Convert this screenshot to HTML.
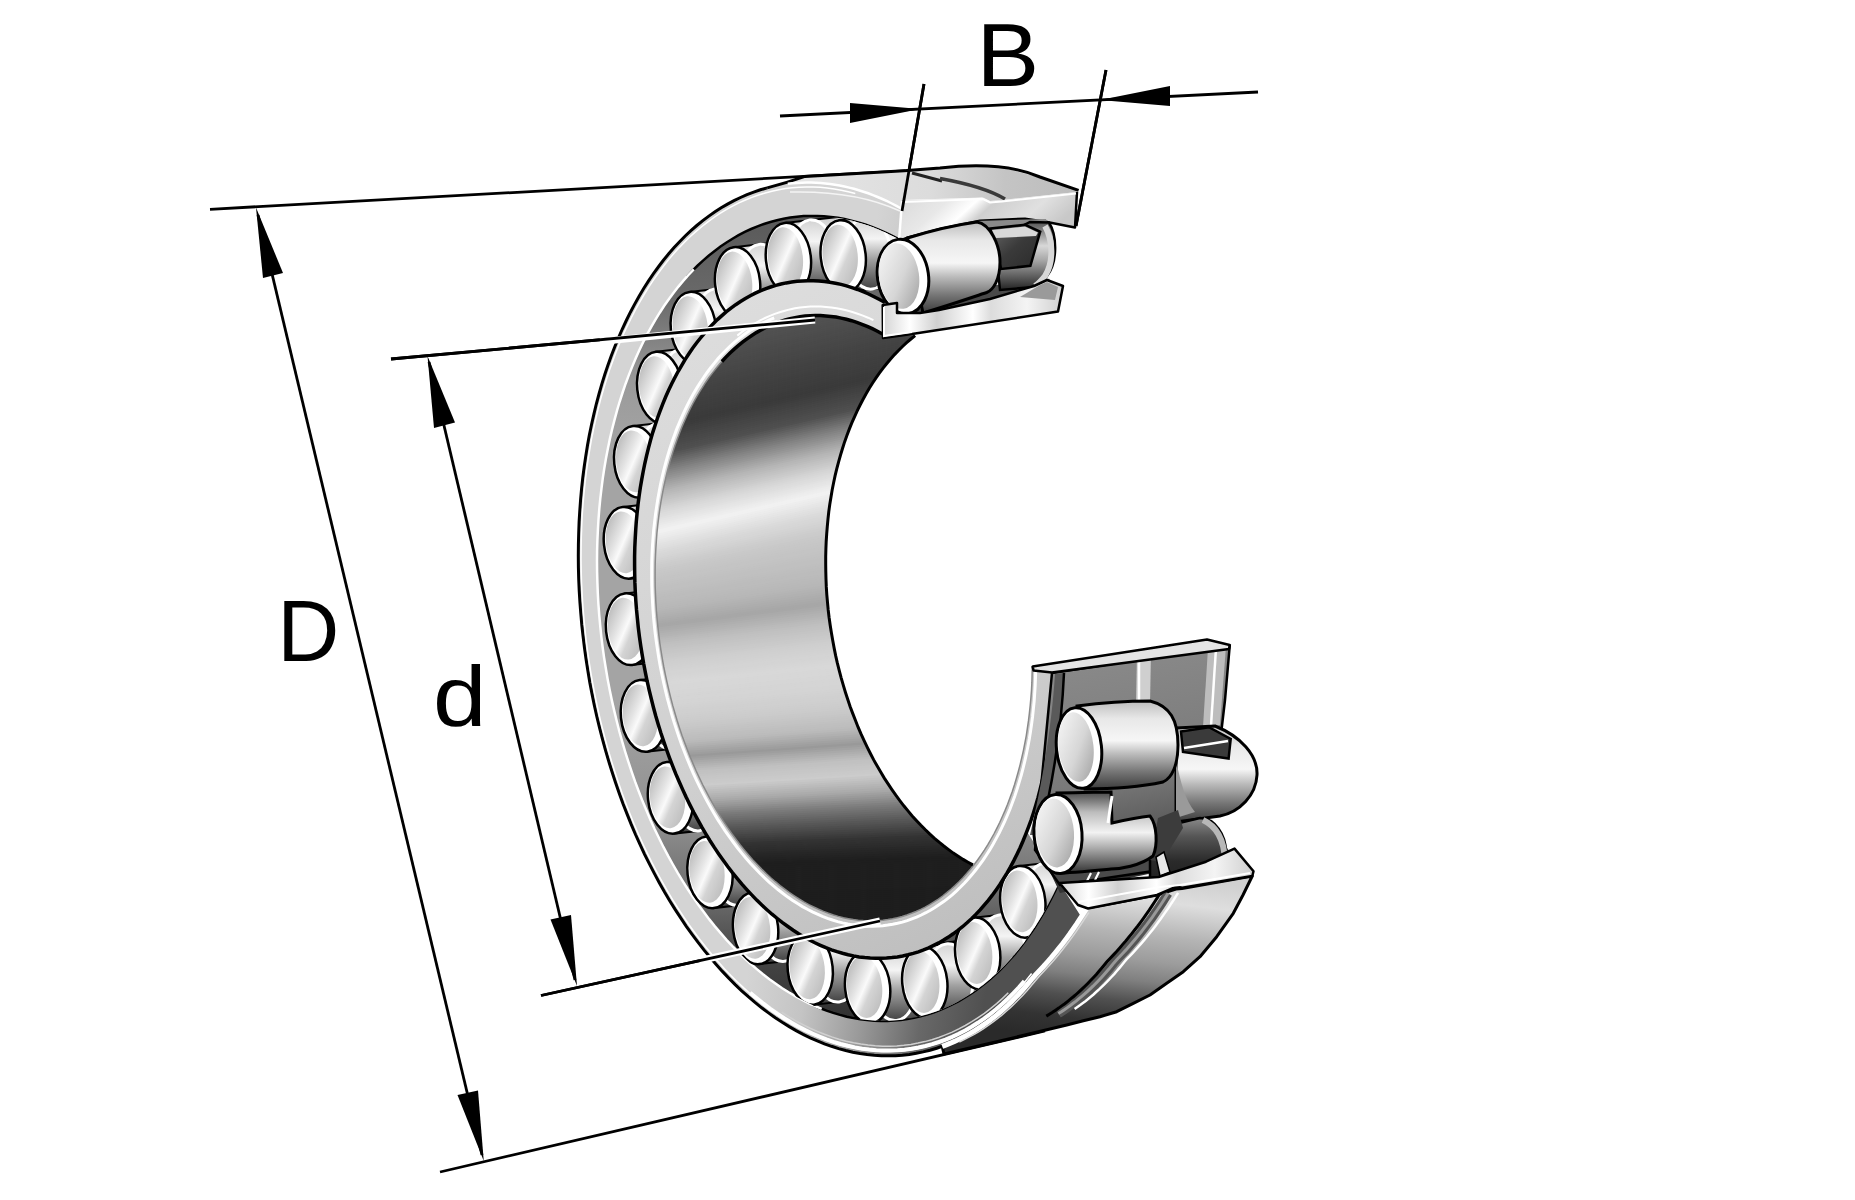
<!DOCTYPE html><html><head><meta charset="utf-8"><style>html,body{margin:0;padding:0;background:#fff;overflow:hidden;}svg{display:block;}.lbl{font-family:"Liberation Sans",sans-serif;font-size:87px;fill:#000;}</style></head><body>
<svg width="1855" height="1200" viewBox="0 0 1855 1200">
<defs>
<linearGradient id="gOuter" gradientUnits="userSpaceOnUse" x1="745" y1="990" x2="980" y2="1030"><stop offset="0" stop-color="#d4d4d4"/><stop offset="0.25" stop-color="#c4c4c4"/><stop offset="0.5" stop-color="#9a9a9a"/><stop offset="0.75" stop-color="#686868"/><stop offset="1" stop-color="#505050"/></linearGradient>
<linearGradient id="gCav" gradientUnits="userSpaceOnUse" x1="0" y1="220" x2="0" y2="1030"><stop offset="0.000" stop-color="#5a5a5a"/><stop offset="0.099" stop-color="#6a6a6a"/><stop offset="0.198" stop-color="#9a9a9a"/><stop offset="0.284" stop-color="#a4a4a4"/><stop offset="0.593" stop-color="#a4a4a4"/><stop offset="0.741" stop-color="#909090"/><stop offset="0.840" stop-color="#6a6a6a"/><stop offset="0.914" stop-color="#444444"/><stop offset="1.000" stop-color="#2e2e2e"/></linearGradient>
<linearGradient id="gInner" gradientUnits="userSpaceOnUse" x1="650" y1="300" x2="980" y2="960"><stop offset="0" stop-color="#dedede"/><stop offset="0.6" stop-color="#d0d0d0"/><stop offset="1" stop-color="#bdbdbd"/></linearGradient>
<linearGradient id="gBore" gradientUnits="userSpaceOnUse" x1="750" y1="320" x2="810" y2="920"><stop offset="0.000" stop-color="#585858"/><stop offset="0.083" stop-color="#444444"/><stop offset="0.167" stop-color="#3a3a3a"/><stop offset="0.233" stop-color="#888888"/><stop offset="0.283" stop-color="#cccccc"/><stop offset="0.333" stop-color="#f2f2f2"/><stop offset="0.383" stop-color="#cdcdcd"/><stop offset="0.433" stop-color="#bbbbbb"/><stop offset="0.492" stop-color="#a8a8a8"/><stop offset="0.533" stop-color="#cccccc"/><stop offset="0.583" stop-color="#dddddd"/><stop offset="0.650" stop-color="#cccccc"/><stop offset="0.683" stop-color="#bbbbbb"/><stop offset="0.717" stop-color="#9c9c9c"/><stop offset="0.750" stop-color="#bbbbbb"/><stop offset="0.792" stop-color="#999999"/><stop offset="0.833" stop-color="#666666"/><stop offset="0.875" stop-color="#333333"/><stop offset="0.917" stop-color="#1c1c1c"/><stop offset="1.000" stop-color="#1c1c1c"/></linearGradient>
<linearGradient id="gCap" x1="0" y1="0" x2="1" y2="1"><stop offset="0" stop-color="#a8a8a8"/><stop offset="0.38" stop-color="#e4e4e4"/><stop offset="0.5" stop-color="#fafafa"/><stop offset="0.62" stop-color="#d4d4d4"/><stop offset="1" stop-color="#b4b4b4"/></linearGradient>
<linearGradient id="gBody" x1="0" y1="0" x2="0" y2="1"><stop offset="0" stop-color="#c8c8c8"/><stop offset="0.35" stop-color="#f4f4f4"/><stop offset="0.6" stop-color="#a0a0a0"/><stop offset="1" stop-color="#3a3a3a"/></linearGradient>
<clipPath id="cOuterKeep"><polygon points="870,620 905,170.8 210,209.3 -10,215 -10,1210 1268,1210 892,620"/></clipPath>
<clipPath id="cCav"><path d="M1093.0,584.1 L1094.8,598.2 L1096.3,612.3 L1097.6,626.4 L1098.5,640.5 L1099.1,654.6 L1099.4,668.7 L1099.3,682.7 L1099.0,696.6 L1098.4,710.4 L1097.4,724.1 L1096.2,737.7 L1094.6,751.1 L1092.7,764.3 L1090.6,777.4 L1088.1,790.3 L1085.3,803.0 L1082.3,815.4 L1079.0,827.6 L1075.3,839.5 L1071.4,851.2 L1067.2,862.6 L1062.8,873.7 L1058.1,884.4 L1053.1,894.9 L1047.9,905.0 L1042.4,914.7 L1036.7,924.1 L1030.8,933.1 L1024.6,941.7 L1018.2,949.9 L1011.6,957.7 L1004.8,965.1 L997.8,972.1 L990.7,978.6 L983.3,984.7 L975.8,990.3 L968.1,995.5 L960.3,1000.2 L952.4,1004.5 L944.3,1008.2 L936.1,1011.5 L927.8,1014.3 L919.3,1016.6 L910.8,1018.4 L902.3,1019.8 L893.6,1020.6 L884.9,1020.9 L876.2,1020.8 L867.4,1020.1 L858.6,1019.0 L849.8,1017.3 L841.0,1015.2 L832.2,1012.6 L823.4,1009.5 L814.6,1005.9 L805.9,1001.8 L797.3,997.3 L788.7,992.3 L780.1,986.8 L771.7,980.9 L763.3,974.5 L755.1,967.7 L747.0,960.5 L739.0,952.8 L731.1,944.7 L723.4,936.3 L715.8,927.4 L708.4,918.2 L701.1,908.5 L694.1,898.6 L687.2,888.3 L680.6,877.6 L674.1,866.6 L667.8,855.4 L661.8,843.8 L656.0,832.0 L650.5,819.9 L645.2,807.5 L640.1,794.9 L635.3,782.1 L630.7,769.1 L626.5,755.9 L622.5,742.5 L618.7,729.0 L615.3,715.4 L612.1,701.6 L609.3,687.7 L606.7,673.8 L604.4,659.8 L602.4,645.7 L600.8,631.6 L599.4,617.4 L598.3,603.3 L597.6,589.2 L597.2,575.1 L597.0,561.1 L597.2,547.2 L597.7,533.3 L598.5,519.5 L599.6,505.9 L601.0,492.4 L602.7,479.1 L604.7,465.9 L607.0,452.9 L609.6,440.2 L612.5,427.6 L615.7,415.3 L619.2,403.2 L623.0,391.4 L627.0,379.9 L631.3,368.6 L635.9,357.7 L640.8,347.1 L645.9,336.8 L651.2,326.9 L656.8,317.4 L662.6,308.2 L668.7,299.3 L675.0,290.9 L681.5,282.9 L688.1,275.3 L695.0,268.1 L702.1,261.4 L709.4,255.1 L716.8,249.2 L724.4,243.8 L732.2,238.9 L740.0,234.4 L748.1,230.4 L756.2,226.9 L764.5,223.8 L772.8,221.3 L781.3,219.2 L789.8,217.6 L798.4,216.6 L807.1,216.0 L815.8,215.9 L824.6,216.3 L833.4,217.2 L842.2,218.6 L851.0,220.5 L859.8,222.9 L868.6,225.7 L877.4,229.1 L886.1,232.9 L894.8,237.2 L903.5,242.0 L912.0,247.2 L920.5,252.9 L928.9,259.0 L937.2,265.6 L945.4,272.7 L953.5,280.1 L961.4,288.0 L969.2,296.2 L976.8,304.9 L984.3,314.0 L991.7,323.4 L998.8,333.2 L1005.8,343.3 L1012.5,353.8 L1019.1,364.6 L1025.5,375.8 L1031.6,387.2 L1037.5,398.9 L1043.2,410.9 L1048.6,423.1 L1053.8,435.6 L1058.7,448.3 L1063.4,461.2 L1067.8,474.3 L1072.0,487.6 L1075.8,501.0 L1079.4,514.6 L1082.7,528.3 L1085.7,542.1 L1088.5,556.0 L1090.9,570.0 L1093.0,584.1Z"/></clipPath>
<linearGradient id="gTopSurf" gradientUnits="userSpaceOnUse" x1="780" y1="180" x2="1080" y2="190"><stop offset="0" stop-color="#e6e6e6"/><stop offset="0.5" stop-color="#dcdcdc"/><stop offset="0.75" stop-color="#c4c4c4"/><stop offset="1" stop-color="#bcbcbc"/></linearGradient>
<linearGradient id="gCutFace" x1="0" y1="0" x2="1" y2="0.3"><stop offset="0" stop-color="#d8d8d8"/><stop offset="0.3" stop-color="#e8e8e8"/><stop offset="0.45" stop-color="#ffffff"/><stop offset="0.55" stop-color="#cfcfcf"/><stop offset="0.8" stop-color="#e0e0e0"/><stop offset="1" stop-color="#c8c8c8"/></linearGradient>
<linearGradient id="gCutFace2" x1="0" y1="0" x2="1" y2="0"><stop offset="0" stop-color="#d4d4d4"/><stop offset="0.15" stop-color="#ffffff"/><stop offset="0.3" stop-color="#d0d0d0"/><stop offset="0.5" stop-color="#ffffff"/><stop offset="0.6" stop-color="#dcdcdc"/><stop offset="0.8" stop-color="#f4f4f4"/><stop offset="1" stop-color="#cfcfcf"/></linearGradient>
<linearGradient id="gRBody" x1="0" y1="0" x2="0" y2="1"><stop offset="0" stop-color="#bdbdbd"/><stop offset="0.2" stop-color="#e8e8e8"/><stop offset="0.45" stop-color="#f6f6f6"/><stop offset="0.6" stop-color="#bcbcbc"/><stop offset="0.8" stop-color="#777"/><stop offset="1" stop-color="#3c3c3c"/></linearGradient>
<linearGradient id="gRBodyD" x1="0" y1="0" x2="0" y2="1"><stop offset="0" stop-color="#555"/><stop offset="0.35" stop-color="#d8d8d8"/><stop offset="0.55" stop-color="#aaa"/><stop offset="1" stop-color="#222"/></linearGradient>
<linearGradient id="gCage" x1="0" y1="0" x2="1" y2="1"><stop offset="0" stop-color="#6a6a6a"/><stop offset="0.5" stop-color="#3a3a3a"/><stop offset="1" stop-color="#2a2a2a"/></linearGradient>
<linearGradient id="gOuterCyl" gradientUnits="userSpaceOnUse" x1="1150" y1="875" x2="1130" y2="1045"><stop offset="0" stop-color="#d0d0d0"/><stop offset="0.15" stop-color="#dedede"/><stop offset="0.35" stop-color="#b4b4b4"/><stop offset="0.5" stop-color="#9c9c9c"/><stop offset="0.62" stop-color="#808080"/><stop offset="0.75" stop-color="#505050"/><stop offset="0.88" stop-color="#333333"/><stop offset="1" stop-color="#2a2a2a"/></linearGradient>
<linearGradient id="gRace" gradientUnits="userSpaceOnUse" x1="1100" y1="650" x2="1140" y2="860"><stop offset="0" stop-color="#8a8a8a"/><stop offset="0.6" stop-color="#7a7a7a"/><stop offset="1" stop-color="#4a4a4a"/></linearGradient>
<linearGradient id="gCap2" x1="0" y1="0" x2="1" y2="1"><stop offset="0" stop-color="#fafafa"/><stop offset="0.55" stop-color="#d6d6d6"/><stop offset="1" stop-color="#9c9c9c"/></linearGradient>
<linearGradient id="gRollD" x1="0" y1="0" x2="0" y2="1"><stop offset="0" stop-color="#8a8a8a"/><stop offset="0.3" stop-color="#555"/><stop offset="0.7" stop-color="#2a2a2a"/><stop offset="1" stop-color="#222"/></linearGradient>
<linearGradient id="gRBodyC" x1="0" y1="0" x2="0" y2="1"><stop offset="0" stop-color="#4a4a4a"/><stop offset="0.25" stop-color="#bdbdbd"/><stop offset="0.5" stop-color="#f2f2f2"/><stop offset="0.7" stop-color="#a8a8a8"/><stop offset="1" stop-color="#333"/></linearGradient>
</defs>
<line x1="210" y1="209.3" x2="905" y2="170.8" stroke="#000" stroke-width="2.8" fill="none"/>
<line x1="440" y1="1172" x2="1045" y2="1031" stroke="#000" stroke-width="2.8" fill="none"/>
<line x1="391" y1="359" x2="815" y2="320" stroke="#000" stroke-width="2.8" fill="none"/>
<line x1="541" y1="995.5" x2="880" y2="921" stroke="#000" stroke-width="2.8" fill="none"/>
<line x1="258" y1="215" x2="482" y2="1155" stroke="#000" stroke-width="2.8" fill="none"/>
<polygon points="256,207.5 283,273 263,278" fill="#000"/>
<polygon points="483.75,1161 457.5,1095 478,1090.5" fill="#000"/>
<line x1="429" y1="362" x2="575" y2="980" stroke="#000" stroke-width="2.8" fill="none"/>
<polygon points="427.5,356 455,422.5 434,428" fill="#000"/>
<polygon points="577,986 550.5,919.5 571,915" fill="#000"/>
<line x1="780" y1="116" x2="1258" y2="92" stroke="#000" stroke-width="2.8" fill="none"/>
<polygon points="920,109 850,103 850,123" fill="#000"/>
<polygon points="1100,100 1170,86 1170,106" fill="#000"/>
<line x1="924" y1="84" x2="902" y2="211" stroke="#000" stroke-width="2.8" fill="none"/>
<line x1="1106" y1="70" x2="1076" y2="226" stroke="#000" stroke-width="2.8" fill="none"/>
<text class="lbl" transform="translate(976.5 86) scale(1.08 1.02)">B</text>
<text class="lbl" transform="translate(277.3 661.3) scale(0.988 1.01)">D</text>
<text class="lbl" transform="translate(433 725.5) scale(1.105 0.973)">d</text>
<g clip-path="url(#cOuterKeep)">
<path d="M1086.8,908.2 L1082.8,914.6 L1078.7,920.9 L1074.6,927.1 L1070.3,933.1 L1066.0,939.1 L1061.6,944.9 L1057.1,950.6 L1052.5,956.1 L1047.8,961.6 L1043.1,966.9 L1038.3,972.0 L1033.4,977.0 L1033.4,977.0 L1028.2,983.5 L1022.8,989.8 L1017.3,995.7 L1011.7,1001.4 L1006.0,1006.9 L1000.2,1012.1 L994.2,1017.0 L988.2,1021.6 L982.1,1025.9 L975.8,1030.0 L969.5,1033.8 L963.1,1037.2 L956.6,1040.4 L950.0,1043.3 L943.4,1045.9 L936.7,1048.2 L929.9,1050.2 L923.1,1051.9 L916.2,1053.3 L909.3,1054.4 L902.4,1055.2 L895.4,1055.7 L888.3,1055.8 L881.3,1055.7 L874.2,1055.3 L867.1,1054.5 L860.0,1053.5 L852.8,1052.2 L845.7,1050.5 L838.6,1048.6 L831.4,1046.3 L824.3,1043.8 L817.2,1040.9 L810.2,1037.8 L803.1,1034.3 L796.1,1030.6 L789.1,1026.6 L782.2,1022.3 L775.3,1017.7 L768.5,1012.9 L761.7,1007.8 L755.0,1002.4 L748.3,996.7 L741.7,990.8 L735.2,984.6 L728.8,978.1 L722.4,971.4 L716.1,964.5 L710.0,957.3 L703.9,949.9 L697.9,942.2 L692.0,934.3 L686.3,926.2 L680.6,917.9 L675.1,909.4 L669.7,900.7 L664.4,891.7 L659.3,882.6 L654.2,873.3 L649.3,863.8 L644.6,854.2 L640.0,844.4 L635.5,834.4 L631.2,824.3 L627.0,814.0 L623.0,803.6 L619.2,793.1 L615.5,782.5 L611.9,771.7 L608.6,760.8 L605.4,749.9 L602.4,738.8 L599.5,727.7 L596.8,716.4 L594.3,705.2 L592.0,693.8 L589.8,682.4 L587.9,671.0 L586.1,659.5 L584.5,648.0 L583.0,636.4 L581.8,624.9 L580.8,613.4 L579.9,601.8 L579.2,590.3 L578.7,578.8 L578.4,567.3 L578.3,555.9 L578.4,544.5 L578.7,533.1 L579.1,521.8 L579.8,510.6 L580.6,499.5 L581.6,488.4 L582.8,477.4 L584.2,466.6 L585.8,455.8 L587.5,445.2 L589.5,434.6 L591.6,424.2 L593.9,414.0 L596.4,403.9 L599.0,393.9 L601.8,384.1 L604.8,374.4 L608.0,365.0 L611.3,355.7 L614.8,346.6 L618.5,337.6 L622.3,328.9 L626.3,320.4 L630.4,312.1 L634.7,304.0 L639.2,296.1 L643.7,288.5 L648.5,281.0 L653.3,273.9 L658.3,266.9 L663.5,260.2 L668.7,253.8 L674.1,247.6 L679.6,241.6 L685.3,236.0 L691.0,230.6 L696.9,225.5 L702.8,220.6 L708.9,216.0 L715.0,211.7 L721.3,207.7 L727.6,204.0 L734.0,200.6 L740.5,197.4 L747.1,194.6 L753.8,192.1 L760.5,189.8 L767.3,187.9 L774.1,186.2 L781.0,184.9 L787.9,183.8 L794.9,183.1 L801.9,182.7 L808.9,182.6 L816.0,182.7 L823.1,183.2 L830.2,184.0 L837.3,185.1 L844.4,186.5 L851.6,188.2 L858.7,190.2 L865.8,192.5 L872.9,195.1 L880.0,198.0 L887.1,201.2 L894.1,204.7 L901.1,208.5 L899.0,239.4 L892.5,236.0 L885.9,232.8 L879.3,229.9 L872.7,227.2 L866.1,224.8 L859.4,222.7 L852.8,220.9 L846.2,219.4 L839.5,218.1 L832.9,217.1 L826.2,216.4 L819.6,216.0 L813.0,215.9 L806.5,216.0 L799.9,216.4 L793.4,217.1 L786.9,218.1 L780.5,219.4 L774.1,220.9 L767.8,222.8 L761.5,224.9 L755.3,227.2 L749.2,229.9 L743.1,232.8 L737.1,236.0 L731.2,239.5 L725.4,243.2 L719.6,247.2 L713.9,251.4 L708.4,255.9 L702.9,260.7 L697.5,265.7 L692.3,271.0 L687.1,276.5 L682.1,282.2 L677.1,288.2 L672.3,294.4 L667.6,300.8 L663.1,307.5 L658.7,314.4 L654.4,321.5 L650.2,328.7 L646.2,336.2 L642.3,343.9 L638.6,351.8 L635.0,359.9 L631.5,368.2 L628.2,376.6 L625.1,385.2 L622.1,394.0 L619.3,402.9 L616.7,412.0 L614.2,421.2 L611.8,430.5 L609.7,440.0 L607.7,449.6 L605.8,459.4 L604.2,469.2 L602.7,479.2 L601.4,489.2 L600.2,499.3 L599.3,509.5 L598.5,519.8 L597.8,530.2 L597.4,540.6 L597.1,551.1 L597.0,561.6 L597.1,572.2 L597.4,582.8 L597.8,593.4 L598.4,604.1 L599.2,614.7 L600.1,625.4 L601.3,636.0 L602.6,646.7 L604.0,657.3 L605.7,667.9 L607.5,678.4 L609.5,688.9 L611.7,699.4 L614.0,709.8 L616.5,720.1 L619.1,730.4 L621.9,740.6 L624.9,750.7 L628.0,760.7 L631.3,770.6 L634.7,780.5 L638.3,790.1 L642.0,799.7 L645.9,809.2 L649.9,818.5 L654.0,827.7 L658.3,836.7 L662.7,845.6 L667.3,854.3 L671.9,862.8 L676.7,871.2 L681.6,879.4 L686.7,887.4 L691.8,895.3 L697.1,902.9 L702.4,910.3 L707.9,917.6 L713.5,924.6 L719.1,931.4 L724.9,938.0 L730.7,944.3 L736.6,950.5 L742.6,956.4 L748.7,962.1 L754.8,967.5 L761.0,972.7 L767.3,977.6 L773.6,982.3 L780.0,986.7 L786.4,990.9 L792.9,994.8 L799.4,998.4 L805.9,1001.8 L812.5,1004.9 L819.1,1007.8 L825.7,1010.3 L832.3,1012.6 L839.0,1014.6 L845.6,1016.4 L852.3,1017.8 L858.9,1019.0 L865.5,1019.9 L872.2,1020.5 L878.8,1020.9 L885.4,1020.9 L891.9,1020.7 L898.5,1020.2 L904.9,1019.4 L911.4,1018.3 L917.8,1017.0 L924.2,1015.4 L930.5,1013.4 L936.7,1011.3 L942.9,1008.8 L949.1,1006.1 L955.1,1003.1 L961.1,999.8 L967.0,996.2 L972.8,992.4 L978.5,988.4 L984.2,984.0 L989.7,979.5 L995.1,974.6 L1000.5,969.5 L1005.7,964.2 L1010.8,958.6 L1015.8,952.8 L1020.7,946.8 L1025.5,940.5 L1030.2,934.0 L1034.7,927.3 L1039.1,920.3 L1043.3,913.2 L1047.4,905.8 L1051.4,898.2 L1055.2,890.5 L1058.9,882.5Z" fill="url(#gOuter)"/>
<path d="M1058.9,882.5 L1055.2,890.5 L1051.4,898.2 L1047.4,905.8 L1043.3,913.2 L1039.1,920.3 L1034.7,927.3 L1030.2,934.0 L1025.5,940.5 L1020.7,946.8 L1015.8,952.8 L1010.8,958.6 L1005.7,964.2 L1000.5,969.5 L995.1,974.6 L989.7,979.5 L984.2,984.0 L978.5,988.4 L972.8,992.4 L967.0,996.2 L961.1,999.8 L955.1,1003.1 L949.1,1006.1 L942.9,1008.8 L936.7,1011.3 L930.5,1013.4 L924.2,1015.4 L917.8,1017.0 L911.4,1018.3 L904.9,1019.4 L898.5,1020.2 L891.9,1020.7 L885.4,1020.9 L878.8,1020.9 L872.2,1020.5 L865.5,1019.9 L858.9,1019.0 L852.3,1017.8 L845.6,1016.4 L839.0,1014.6 L832.3,1012.6 L825.7,1010.3 L819.1,1007.8 L812.5,1004.9 L805.9,1001.8 L799.4,998.4 L792.9,994.8 L786.4,990.9 L780.0,986.7 L773.6,982.3 L767.3,977.6 L761.0,972.7 L754.8,967.5 L748.7,962.1 L742.6,956.4 L736.6,950.5 L730.7,944.3 L724.9,938.0 L719.1,931.4 L713.5,924.6 L707.9,917.6 L702.4,910.3 L697.1,902.9 L691.8,895.3 L686.7,887.4 L681.6,879.4 L676.7,871.2 L671.9,862.8 L667.3,854.3 L662.7,845.6 L658.3,836.7 L654.0,827.7 L649.9,818.5 L645.9,809.2 L642.0,799.7 L638.3,790.1 L634.7,780.5 L631.3,770.6 L628.0,760.7 L624.9,750.7 L621.9,740.6 L619.1,730.4 L616.5,720.1 L614.0,709.8 L611.7,699.4 L609.5,688.9 L607.5,678.4 L605.7,667.9 L604.0,657.3 L602.6,646.7 L601.3,636.0 L600.1,625.4 L599.2,614.7 L598.4,604.1 L597.8,593.4 L597.4,582.8 L597.1,572.2 L597.0,561.6 L597.1,551.1 L597.4,540.6 L597.8,530.2 L598.5,519.8 L599.3,509.5 L600.2,499.3 L601.4,489.2 L602.7,479.2 L604.2,469.2 L605.8,459.4 L607.7,449.6 L609.7,440.0 L611.8,430.5 L614.2,421.2 L616.7,412.0 L619.3,402.9 L622.1,394.0 L625.1,385.2 L628.2,376.6 L631.5,368.2 L635.0,359.9 L638.6,351.8 L642.3,343.9 L646.2,336.2 L650.2,328.7 L654.4,321.5 L658.7,314.4 L663.1,307.5 L667.6,300.8 L672.3,294.4 L677.1,288.2 L682.1,282.2 L687.1,276.5 L692.3,271.0 L697.5,265.7 L702.9,260.7 L708.4,255.9 L713.9,251.4 L719.6,247.2 L725.4,243.2 L731.2,239.5 L737.1,236.0 L743.1,232.8 L749.2,229.9 L755.3,227.2 L761.5,224.9 L767.8,222.8 L774.1,220.9 L780.5,219.4 L786.9,218.1 L793.4,217.1 L799.9,216.4 L806.5,216.0 L813.0,215.9 L819.6,216.0 L826.2,216.4 L832.9,217.1 L839.5,218.1 L846.2,219.4 L852.8,220.9 L859.4,222.7 L866.1,224.8 L872.7,227.2 L879.3,229.9 L885.9,232.8 L892.5,236.0 L899.0,239.4 L885.0,302.5 L879.5,299.5 L874.1,296.7 L868.6,294.0 L863.1,291.7 L857.6,289.5 L852.0,287.6 L846.5,285.9 L841.0,284.4 L835.4,283.2 L829.9,282.2 L824.4,281.5 L818.9,281.0 L813.4,280.7 L807.9,280.7 L802.5,280.9 L797.1,281.3 L791.7,282.0 L786.3,282.9 L781.0,284.0 L775.8,285.4 L770.6,287.0 L765.4,288.8 L760.3,290.9 L755.3,293.2 L750.3,295.7 L745.4,298.5 L740.5,301.5 L735.7,304.7 L731.0,308.1 L726.4,311.7 L721.9,315.6 L717.4,319.6 L713.0,323.9 L708.8,328.4 L704.6,333.1 L700.5,338.0 L696.5,343.0 L692.6,348.3 L688.9,353.8 L685.2,359.4 L681.7,365.3 L678.2,371.3 L674.9,377.5 L671.7,383.8 L668.6,390.3 L665.6,397.0 L662.8,403.8 L660.1,410.8 L657.5,418.0 L655.1,425.2 L652.7,432.6 L650.5,440.2 L648.5,447.8 L646.6,455.6 L644.8,463.5 L643.2,471.5 L641.7,479.6 L640.3,487.8 L639.1,496.1 L638.0,504.5 L637.1,513.0 L636.3,521.5 L635.7,530.1 L635.2,538.8 L634.8,547.5 L634.6,556.3 L634.6,565.1 L634.7,574.0 L634.9,582.9 L635.3,591.8 L635.8,600.7 L636.5,609.7 L637.4,618.6 L638.3,627.6 L639.4,636.5 L640.7,645.5 L642.1,654.4 L643.6,663.3 L645.3,672.1 L647.1,681.0 L649.1,689.8 L651.2,698.5 L653.4,707.2 L655.7,715.8 L658.2,724.3 L660.8,732.8 L663.6,741.2 L666.5,749.5 L669.5,757.8 L672.6,765.9 L675.8,773.9 L679.2,781.8 L682.7,789.6 L686.2,797.3 L689.9,804.9 L693.7,812.3 L697.7,819.6 L701.7,826.8 L705.8,833.8 L710.0,840.7 L714.3,847.4 L718.7,853.9 L723.2,860.3 L727.7,866.5 L732.4,872.6 L737.1,878.4 L741.9,884.1 L746.8,889.6 L751.7,894.9 L756.7,900.1 L761.8,905.0 L766.9,909.7 L772.0,914.2 L777.3,918.5 L782.5,922.6 L787.9,926.5 L793.2,930.2 L798.6,933.7 L804.0,936.9 L809.5,940.0 L814.9,942.8 L820.4,945.3 L825.9,947.7 L831.5,949.8 L837.0,951.7 L842.5,953.3 L848.1,954.7 L853.6,955.9 L859.1,956.9 L864.7,957.6 L870.2,958.1 L875.6,958.3 L881.1,958.3 L886.5,958.1 L892.0,957.6 L897.3,956.9 L902.7,956.0 L908.0,954.8 L913.2,953.4 L918.4,951.8 L923.6,949.9 L928.7,947.8 L933.7,945.4 L938.7,942.9 L943.6,940.1 L948.4,937.1 L953.2,933.8 L957.9,930.4 L962.5,926.7 L967.0,922.8 L971.5,918.7 L975.8,914.4 L980.1,909.9 L984.2,905.2 L988.3,900.3 L992.3,895.2 L996.1,889.9 L999.9,884.4 L1003.5,878.7 L1007.1,872.8 L1010.5,866.8 L1013.8,860.6 L1017.0,854.2 L1020.1,847.7 L1023.0,841.0 L1025.8,834.1 L1028.5,827.1 L1031.1,820.0 L1033.5,812.7 L1035.8,805.3 L1038.0,797.7 L1040.0,790.0 L1041.9,782.2 L1043.7,774.3 L1045.3,766.3 L1046.7,758.2 L1048.1,749.9 L1049.3,741.6 L1050.3,733.2 L1051.2,724.8 L1052.0,716.2 L1052.6,707.6 L1053.1,698.9 L1053.4,690.2 L1053.6,681.4 L1053.6,672.6Z" fill="url(#gCav)"/>
<path d="M1086.8,908.2 L1082.8,914.6 L1078.7,920.9 L1074.6,927.1 L1070.3,933.1 L1066.0,939.1 L1061.6,944.9 L1057.1,950.6 L1052.5,956.1 L1047.8,961.6 L1043.1,966.9 L1038.3,972.0 L1033.4,977.0 L1033.4,977.0 L1028.2,983.5 L1022.8,989.8 L1017.3,995.7 L1011.7,1001.4 L1006.0,1006.9 L1000.2,1012.1 L994.2,1017.0 L988.2,1021.6 L982.1,1025.9 L975.8,1030.0 L969.5,1033.8 L963.1,1037.2 L956.6,1040.4 L950.0,1043.3 L943.4,1045.9 L936.7,1048.2 L930.0,1050.2 L923.1,1051.9 L916.3,1053.3 L909.3,1054.4 L902.4,1055.2 L895.4,1055.7 L888.3,1055.8 L881.3,1055.7 L874.2,1055.3 L867.1,1054.5 L860.0,1053.5 L852.8,1052.2 L845.7,1050.5 L838.6,1048.6 L831.5,1046.3 L824.4,1043.8 L817.3,1040.9 L810.2,1037.8 L803.1,1034.4 L796.1,1030.6 L789.2,1026.6 L782.2,1022.3 L775.3,1017.8 L768.5,1012.9 L761.7,1007.8 L755.0,1002.4 L748.3,996.7 L741.7,990.8 L735.2,984.6 L728.8,978.1 L722.4,971.4 L716.2,964.5 L710.0,957.3 L703.9,949.9 L697.9,942.2 L692.1,934.4 L686.3,926.3 L680.7,917.9 L675.1,909.4 L669.7,900.7 L664.4,891.8 L659.3,882.7 L654.3,873.4 L649.4,863.9 L644.6,854.3 L640.0,844.4 L635.5,834.5 L631.2,824.4 L627.1,814.1 L623.0,803.7 L619.2,793.2 L615.5,782.5 L612.0,771.8 L608.6,760.9 L605.4,749.9 L602.4,738.9 L599.5,727.7 L596.8,716.5 L594.3,705.2 L592.0,693.9 L589.8,682.5 L587.9,671.0 L586.1,659.6 L584.5,648.1 L583.1,636.5 L581.8,625.0 L580.8,613.4 L579.9,601.9 L579.2,590.4 L578.7,578.9 L578.4,567.4 L578.3,556.0 L578.4,544.6 L578.7,533.2 L579.1,521.9 L579.8,510.7 L580.6,499.6 L581.6,488.5 L582.8,477.5 L584.2,466.7 L585.8,455.9 L587.5,445.3 L589.4,434.7 L591.6,424.3 L593.9,414.1 L596.3,404.0 L599.0,394.0 L601.8,384.2 L604.8,374.5 L608.0,365.1 L611.3,355.8 L614.8,346.7 L618.5,337.7 L622.3,329.0 L626.3,320.5 L630.4,312.2 L634.7,304.1 L639.1,296.2 L643.7,288.5 L648.4,281.1 L653.3,273.9 L658.3,267.0 L663.4,260.3 L668.7,253.8 L674.1,247.6 L679.6,241.7 L685.2,236.0 L690.9,230.6 L696.8,225.5 L702.8,220.7 L708.8,216.1 L715.0,211.8 L721.2,207.8 L727.5,204.1 L734.0,200.6 L740.5,197.5 L747.0,194.6 L753.7,192.1 L760.4,189.8 L767.2,187.9" fill="none" stroke="#000" stroke-width="3"/>
<path d="M1058.9,882.5 L1055.2,890.7 L1051.2,898.6 L1047.2,906.3 L1042.9,913.8 L1038.6,921.1 L1034.1,928.2 L1029.4,935.0 L1024.7,941.6 L1019.8,948.0 L1014.8,954.1 L1009.6,960.0 L1004.3,965.6 L999.0,971.0 L993.5,976.1 L987.9,981.0 L982.2,985.6 L976.4,989.9 L970.5,994.0 L964.5,997.8 L958.4,1001.3 L952.3,1004.5 L946.1,1007.4 L939.8,1010.1 L933.4,1012.5 L927.0,1014.5 L920.5,1016.3 L914.0,1017.8 L907.4,1019.0 L900.8,1019.9 L894.1,1020.6 L887.4,1020.9 L880.7,1020.9 L874.0,1020.7 L867.2,1020.1 L860.4,1019.2 L853.6,1018.1 L846.8,1016.7 L840.0,1014.9 L833.2,1012.9 L826.5,1010.6 L819.7,1008.0 L813.0,1005.1" fill="none" stroke="#000" stroke-width="2.5"/>
<path d="M687.0,276.6 L692.3,270.9 L697.7,265.5 L703.3,260.4 L708.9,255.5 L714.7,250.9 L720.5,246.5 L726.5,242.5 L732.5,238.7 L738.6,235.2 L744.8,231.9 L751.1,229.0 L757.5,226.4 L763.9,224.0 L770.4,222.0 L776.9,220.2 L783.5,218.7 L790.2,217.6 L796.9,216.7 L803.6,216.1 L810.4,215.9 L817.2,215.9 L824.0,216.2 L830.8,216.9 L837.6,217.8 L844.5,219.0 L851.4,220.6 L858.2,222.4 L865.1,224.5 L871.9,226.9 L878.7,229.6 L885.5,232.6 L892.3,235.9 L899.0,239.4" fill="none" stroke="#000" stroke-width="2.5"/>
<path d="M821.7,1008.8 L815.0,1006.0 L808.4,1003.0 L801.8,999.7 L795.2,996.1 L788.7,992.3 L782.2,988.2 L775.8,983.8 L769.4,979.2 L763.0,974.3 L756.8,969.1 L750.6,963.7 L744.4,958.1 L738.4,952.2 L732.4,946.1 L726.5,939.8 L720.7,933.2 L714.9,926.4 L709.3,919.4 L703.8,912.1 L698.3,904.7 L693.0,897.0 L687.8,889.2 L682.7,881.1 L677.7,872.9 L672.9,864.5 L668.1,855.9 L663.5,847.2 L659.1,838.3 L654.7,829.2 L650.5,820.0 L646.5,810.6 L642.5,801.1 L638.8,791.5 L635.1,781.7 L631.7,771.8 L628.4,761.9 L625.2,751.8 L622.2,741.6 L619.3,731.3 L616.7,721.0 L614.2,710.6 L611.8,700.1 L609.6,689.6 L607.6,679.0 L605.8,668.3 L604.1,657.7 L602.6,647.0 L601.3,636.3 L600.2,625.5 L599.2,614.8 L598.4,604.1 L597.8,593.3 L597.4,582.6 L597.1,571.9 L597.0,561.3 L597.1,550.7 L597.4,540.1 L597.9,529.6 L598.5,519.2 L599.3,508.8 L600.3,498.5 L601.5,488.3 L602.8,478.2 L604.3,468.2 L606.0,458.3 L607.9,448.5 L609.9,438.8 L612.1,429.3 L614.5,419.9 L617.0,410.6 L619.7,401.5 L622.6,392.5 L625.6,383.7 L628.8,375.1 L632.2,366.6 L635.7,358.3 L639.3,350.2 L643.1,342.3 L647.0,334.6 L651.1,327.1 L655.3,319.8 L659.7,312.7 L664.2,305.8 L668.8,299.2 L673.6,292.7 L678.4,286.6 L683.4,280.6 L688.6,274.9 L693.8,269.4" fill="none" stroke="#fff" stroke-width="2.5"/>
<path d="M1031.6,973.5 L1026.4,979.9 L1021.1,986.0 L1015.7,991.9 L1010.2,997.6 L1004.5,1002.9 L998.8,1008.0 L992.9,1012.9 L986.9,1017.5 L980.9,1021.7 L974.7,1025.8 L968.5,1029.5 L962.2,1032.9 L955.8,1036.1 L949.3,1039.0 L942.8,1041.5 L936.2,1043.8 L929.5,1045.8 L922.8,1047.5 L916.0,1048.9 L909.1,1050.0 L902.3,1050.8 L895.4,1051.3 L888.4,1051.5 L881.5,1051.4 L874.5,1051.0 L867.5,1050.3 L860.4,1049.3 L853.4,1048.0 L846.4,1046.4 L839.3,1044.5 L832.3,1042.3 L825.3,1039.8 L818.3,1037.0 L811.3,1033.9 L804.3,1030.6 L797.4,1026.9 L790.5,1023.0 L783.7,1018.8 L776.9,1014.3 L770.1,1009.6 L763.4,1004.5 L756.8,999.2 L750.2,993.7 L743.7,987.9 L737.2,981.8 L730.9,975.5 L724.6,968.9 L718.4,962.1 L712.3,955.0 L706.3,947.7 L700.4,940.2 L694.6,932.5 L688.8,924.5 L683.3,916.3 L677.8,908.0 L672.4,899.4 L667.2,890.6 L662.1,881.6 L657.1,872.5 L652.2,863.2 L647.5,853.7 L642.9,844.0 L638.5,834.2 L634.2,824.3 L630.1,814.2 L626.1,803.9 L622.2,793.6 L618.6,783.1 L615.1,772.5 L611.7,761.8 L608.5,751.0 L605.5,740.1 L602.6,729.1 L599.9,718.1 L597.4,706.9 L595.1,695.8 L592.9,684.5 L590.9,673.2 L589.1,661.9 L587.5,650.6 L586.0,639.2 L584.8,627.8 L583.7,616.4 L582.8,605.0 L582.1,593.6 L581.5,582.3 L581.2,570.9 L581.0,559.6 L581.1,548.4 L581.3,537.2 L581.7,526.0 L582.2,514.9 L583.0,503.9 L584.0,493.0 L585.1,482.1 L586.4,471.3 L587.9,460.7 L589.6,450.2 L591.4,439.7 L593.5,429.4 L595.7,419.3 L598.1,409.2 L600.6,399.3 L603.4,389.6 L606.3,380.0 L609.3,370.6 L612.6,361.4 L616.0,352.3 L619.5,343.5 L623.2,334.8 L627.1,326.3 L631.2,318.0 L635.3,310.0 L639.7,302.1 L644.1,294.5 L648.7,287.1 L653.5,279.9 L658.4,273.0 L663.4,266.3 L668.5,259.8 L673.8,253.6 L679.2,247.6 L684.7,242.0 L690.3,236.5 L696.1,231.4 L701.9,226.5 L707.9,221.8 L713.9,217.5 L720.0,213.4 L726.2,209.6 L732.5,206.1 L738.9,202.9 L745.4,200.0 L751.9,197.4 L758.5,195.0 L765.2,193.0 L771.9,191.2 L778.7,189.8 L785.5,188.6 L792.3,187.8 L799.2,187.2 L806.2,186.9 L813.1,187.0 L820.1,187.3 L827.1,188.0 L834.2,188.9 L841.2,190.2 L848.2,191.7 L855.3,193.5" fill="none" stroke="#fff" stroke-width="1.5"/>
<path d="M1024.3,981.1 L1018.9,987.3 L1013.4,993.2 L1007.7,998.8 L1001.9,1004.2 L996.1,1009.3 L990.1,1014.1 L984.0,1018.6 L977.8,1022.8 L971.5,1026.8 L965.1,1030.4 L958.7,1033.8 L952.1,1036.8 L945.5,1039.6 L938.8,1042.0 L932.1,1044.2 L925.3,1046.0 L918.4,1047.5 L911.5,1048.8 L904.5,1049.7 L897.5,1050.3 L890.5,1050.6 L883.4,1050.6 L876.3,1050.2 L869.2,1049.6 L862.1,1048.7 L854.9,1047.4 L847.8,1045.8 L840.6,1044.0 L833.5,1041.8 L826.4,1039.3 L819.3,1036.5 L812.2,1033.5 L805.1,1030.1 L798.1,1026.4 L791.1,1022.5 L784.1,1018.2 L777.2,1013.7 L770.3,1008.8 L763.5,1003.7 L756.8,998.3 L750.1,992.7" fill="none" stroke="#fff" stroke-width="4"/>
<path d="M1008.3,992.8 L1002.5,998.4 L996.6,1003.6 L990.5,1008.6 L984.4,1013.3 L978.1,1017.6 L971.8,1021.7 L965.3,1025.5 L958.8,1028.9 L952.2,1032.1 L945.4,1034.9 L938.7,1037.5 L931.8,1039.7 L924.9,1041.6 L918.0,1043.1 L910.9,1044.4 L903.9,1045.3 L896.8,1045.9 L889.6,1046.2 L882.4,1046.2 L875.2,1045.8 L868.0,1045.1 L860.8,1044.1 L853.5,1042.8 L846.3,1041.2 L839.0,1039.2 L831.8,1036.9 L824.5,1034.3 L817.3,1031.4 L810.1,1028.2 L803.0,1024.6 L795.8,1020.8 L788.7,1016.6 L781.7,1012.2" fill="none" stroke="#d0d0d0" stroke-width="1.5"/>
</g>
<g clip-path="url(#cOuterKeep)"><g clip-path="url(#cCav)">
<ellipse cx="716.4" cy="532.8" rx="22.5" ry="36.0" transform="rotate(-6.00 716.4 532.8)" fill="url(#gBody)" stroke="#000" stroke-width="2"/><polygon points="622.6,506.9 712.6,496.9 720.1,568.6 630.1,578.6" fill="url(#gBody)" stroke="#000" stroke-width="2"/><ellipse cx="651.6" cy="540.0" rx="22.5" ry="36.0" transform="rotate(-6.00 651.6 540.0)" fill="none" stroke="#fff" stroke-width="3"/><ellipse cx="626.4" cy="542.8" rx="22.5" ry="36.0" transform="rotate(-6.00 626.4 542.8)" fill="#ffffff" stroke="#000" stroke-width="2.5"/><ellipse cx="623.4" cy="542.3" rx="17.5" ry="31.0" transform="rotate(-6.00 623.4 542.3)" fill="url(#gCap)"/>
<ellipse cx="718.5" cy="619.2" rx="22.5" ry="36.0" transform="rotate(-6.00 718.5 619.2)" fill="url(#gBody)" stroke="#000" stroke-width="2"/><polygon points="624.8,593.4 714.8,583.4 722.3,655.0 632.3,665.0" fill="url(#gBody)" stroke="#000" stroke-width="2"/><ellipse cx="653.7" cy="626.4" rx="22.5" ry="36.0" transform="rotate(-6.00 653.7 626.4)" fill="none" stroke="#fff" stroke-width="3"/><ellipse cx="628.5" cy="629.2" rx="22.5" ry="36.0" transform="rotate(-6.00 628.5 629.2)" fill="#ffffff" stroke="#000" stroke-width="2.5"/><ellipse cx="625.5" cy="628.7" rx="17.5" ry="31.0" transform="rotate(-6.00 625.5 628.7)" fill="url(#gCap)"/>
<ellipse cx="726.7" cy="451.8" rx="22.5" ry="36.0" transform="rotate(-6.00 726.7 451.8)" fill="url(#gBody)" stroke="#000" stroke-width="2"/><polygon points="633.0,426.0 723.0,416.0 730.5,487.6 640.5,497.6" fill="url(#gBody)" stroke="#000" stroke-width="2"/><ellipse cx="661.9" cy="459.0" rx="22.5" ry="36.0" transform="rotate(-6.00 661.9 459.0)" fill="none" stroke="#fff" stroke-width="3"/><ellipse cx="636.7" cy="461.8" rx="22.5" ry="36.0" transform="rotate(-6.00 636.7 461.8)" fill="#ffffff" stroke="#000" stroke-width="2.5"/><ellipse cx="633.7" cy="461.3" rx="17.5" ry="31.0" transform="rotate(-6.00 633.7 461.3)" fill="url(#gCap)"/>
<ellipse cx="733.4" cy="705.9" rx="22.5" ry="36.0" transform="rotate(-6.00 733.4 705.9)" fill="url(#gBody)" stroke="#000" stroke-width="2"/><polygon points="639.7,680.1 729.7,670.1 737.2,741.7 647.2,751.7" fill="url(#gBody)" stroke="#000" stroke-width="2"/><ellipse cx="668.6" cy="713.1" rx="22.5" ry="36.0" transform="rotate(-6.00 668.6 713.1)" fill="none" stroke="#fff" stroke-width="3"/><ellipse cx="643.4" cy="715.9" rx="22.5" ry="36.0" transform="rotate(-6.00 643.4 715.9)" fill="#ffffff" stroke="#000" stroke-width="2.5"/><ellipse cx="640.4" cy="715.4" rx="17.5" ry="31.0" transform="rotate(-6.00 640.4 715.4)" fill="url(#gCap)"/>
<ellipse cx="749.7" cy="377.6" rx="22.5" ry="36.0" transform="rotate(-6.00 749.7 377.6)" fill="url(#gBody)" stroke="#000" stroke-width="2"/><polygon points="655.9,351.8 745.9,341.8 753.5,413.4 663.5,423.4" fill="url(#gBody)" stroke="#000" stroke-width="2"/><ellipse cx="684.9" cy="384.8" rx="22.5" ry="36.0" transform="rotate(-6.00 684.9 384.8)" fill="none" stroke="#fff" stroke-width="3"/><ellipse cx="659.7" cy="387.6" rx="22.5" ry="36.0" transform="rotate(-6.00 659.7 387.6)" fill="#ffffff" stroke="#000" stroke-width="2.5"/><ellipse cx="656.7" cy="387.1" rx="17.5" ry="31.0" transform="rotate(-6.00 656.7 387.1)" fill="url(#gCap)"/>
<ellipse cx="760.5" cy="787.8" rx="22.5" ry="36.0" transform="rotate(-6.00 760.5 787.8)" fill="url(#gBody)" stroke="#000" stroke-width="2"/><polygon points="666.8,762.0 756.8,752.0 764.3,823.6 674.3,833.6" fill="url(#gBody)" stroke="#000" stroke-width="2"/><ellipse cx="695.7" cy="795.0" rx="22.5" ry="36.0" transform="rotate(-6.00 695.7 795.0)" fill="none" stroke="#fff" stroke-width="3"/><ellipse cx="670.5" cy="797.8" rx="22.5" ry="36.0" transform="rotate(-6.00 670.5 797.8)" fill="#ffffff" stroke="#000" stroke-width="2.5"/><ellipse cx="667.5" cy="797.3" rx="17.5" ry="31.0" transform="rotate(-6.00 667.5 797.3)" fill="url(#gCap)"/>
<ellipse cx="783.3" cy="317.7" rx="22.5" ry="36.0" transform="rotate(-6.00 783.3 317.7)" fill="url(#gBody)" stroke="#000" stroke-width="2"/><polygon points="689.5,291.9 779.5,281.9 787.0,353.5 697.0,363.5" fill="url(#gBody)" stroke="#000" stroke-width="2"/><ellipse cx="718.5" cy="324.9" rx="22.5" ry="36.0" transform="rotate(-6.00 718.5 324.9)" fill="none" stroke="#fff" stroke-width="3"/><ellipse cx="693.3" cy="327.7" rx="22.5" ry="36.0" transform="rotate(-6.00 693.3 327.7)" fill="#ffffff" stroke="#000" stroke-width="2.5"/><ellipse cx="690.3" cy="327.2" rx="17.5" ry="31.0" transform="rotate(-6.00 690.3 327.2)" fill="url(#gCap)"/>
<ellipse cx="800.0" cy="862.3" rx="22.5" ry="36.0" transform="rotate(-6.00 800.0 862.3)" fill="url(#gBody)" stroke="#000" stroke-width="2"/><polygon points="706.2,836.5 796.2,826.5 803.8,898.1 713.8,908.1" fill="url(#gBody)" stroke="#000" stroke-width="2"/><ellipse cx="735.2" cy="869.5" rx="22.5" ry="36.0" transform="rotate(-6.00 735.2 869.5)" fill="none" stroke="#fff" stroke-width="3"/><ellipse cx="710.0" cy="872.3" rx="22.5" ry="36.0" transform="rotate(-6.00 710.0 872.3)" fill="#ffffff" stroke="#000" stroke-width="2.5"/><ellipse cx="707.0" cy="871.8" rx="17.5" ry="31.0" transform="rotate(-6.00 707.0 871.8)" fill="url(#gCap)"/>
<ellipse cx="827.6" cy="273.0" rx="22.5" ry="36.0" transform="rotate(-6.00 827.6 273.0)" fill="url(#gBody)" stroke="#000" stroke-width="2"/><polygon points="733.8,247.2 823.8,237.2 831.3,308.8 741.3,318.8" fill="url(#gBody)" stroke="#000" stroke-width="2"/><ellipse cx="762.8" cy="280.2" rx="22.5" ry="36.0" transform="rotate(-6.00 762.8 280.2)" fill="none" stroke="#fff" stroke-width="3"/><ellipse cx="737.6" cy="283.0" rx="22.5" ry="36.0" transform="rotate(-6.00 737.6 283.0)" fill="#ffffff" stroke="#000" stroke-width="2.5"/><ellipse cx="734.6" cy="282.5" rx="17.5" ry="31.0" transform="rotate(-6.00 734.6 282.5)" fill="url(#gCap)"/>
<ellipse cx="845.6" cy="918.3" rx="22.5" ry="36.0" transform="rotate(-6.00 845.6 918.3)" fill="url(#gBody)" stroke="#000" stroke-width="2"/><polygon points="751.9,892.5 841.9,882.5 849.4,954.1 759.4,964.1" fill="url(#gBody)" stroke="#000" stroke-width="2"/><ellipse cx="780.8" cy="925.5" rx="22.5" ry="36.0" transform="rotate(-6.00 780.8 925.5)" fill="none" stroke="#fff" stroke-width="3"/><ellipse cx="755.6" cy="928.3" rx="22.5" ry="36.0" transform="rotate(-6.00 755.6 928.3)" fill="#ffffff" stroke="#000" stroke-width="2.5"/><ellipse cx="752.6" cy="927.8" rx="17.5" ry="31.0" transform="rotate(-6.00 752.6 927.8)" fill="url(#gCap)"/>
<ellipse cx="878.4" cy="248.7" rx="22.5" ry="36.0" transform="rotate(-6.00 878.4 248.7)" fill="url(#gBody)" stroke="#000" stroke-width="2"/><polygon points="784.7,222.9 874.7,212.9 882.2,284.5 792.2,294.5" fill="url(#gBody)" stroke="#000" stroke-width="2"/><ellipse cx="813.6" cy="255.9" rx="22.5" ry="36.0" transform="rotate(-6.00 813.6 255.9)" fill="none" stroke="#fff" stroke-width="3"/><ellipse cx="788.4" cy="258.7" rx="22.5" ry="36.0" transform="rotate(-6.00 788.4 258.7)" fill="#ffffff" stroke="#000" stroke-width="2.5"/><ellipse cx="785.4" cy="258.2" rx="17.5" ry="31.0" transform="rotate(-6.00 785.4 258.2)" fill="url(#gCap)"/>
<ellipse cx="900.2" cy="958.9" rx="22.5" ry="36.0" transform="rotate(-6.00 900.2 958.9)" fill="url(#gBody)" stroke="#000" stroke-width="2"/><polygon points="806.5,933.1 896.5,923.1 904.0,994.7 814.0,1004.7" fill="url(#gBody)" stroke="#000" stroke-width="2"/><ellipse cx="835.4" cy="966.1" rx="22.5" ry="36.0" transform="rotate(-6.00 835.4 966.1)" fill="none" stroke="#fff" stroke-width="3"/><ellipse cx="810.2" cy="968.9" rx="22.5" ry="36.0" transform="rotate(-6.00 810.2 968.9)" fill="#ffffff" stroke="#000" stroke-width="2.5"/><ellipse cx="807.2" cy="968.4" rx="17.5" ry="31.0" transform="rotate(-6.00 807.2 968.4)" fill="url(#gCap)"/>
<ellipse cx="933.2" cy="246.1" rx="22.5" ry="36.0" transform="rotate(-6.00 933.2 246.1)" fill="url(#gBody)" stroke="#000" stroke-width="2"/><polygon points="839.4,220.3 929.4,210.3 936.9,281.9 846.9,291.9" fill="url(#gBody)" stroke="#000" stroke-width="2"/><ellipse cx="868.4" cy="253.3" rx="22.5" ry="36.0" transform="rotate(-6.00 868.4 253.3)" fill="none" stroke="#fff" stroke-width="3"/><ellipse cx="843.2" cy="256.1" rx="22.5" ry="36.0" transform="rotate(-6.00 843.2 256.1)" fill="#ffffff" stroke="#000" stroke-width="2.5"/><ellipse cx="840.2" cy="255.6" rx="17.5" ry="31.0" transform="rotate(-6.00 840.2 255.6)" fill="url(#gCap)"/>
<ellipse cx="957.6" cy="977.5" rx="22.5" ry="36.0" transform="rotate(-6.00 957.6 977.5)" fill="url(#gBody)" stroke="#000" stroke-width="2"/><polygon points="863.8,951.7 953.8,941.7 961.4,1013.3 871.4,1023.3" fill="url(#gBody)" stroke="#000" stroke-width="2"/><ellipse cx="892.8" cy="984.7" rx="22.5" ry="36.0" transform="rotate(-6.00 892.8 984.7)" fill="none" stroke="#fff" stroke-width="3"/><ellipse cx="867.6" cy="987.5" rx="22.5" ry="36.0" transform="rotate(-6.00 867.6 987.5)" fill="#ffffff" stroke="#000" stroke-width="2.5"/><ellipse cx="864.6" cy="987.0" rx="17.5" ry="31.0" transform="rotate(-6.00 864.6 987.0)" fill="url(#gCap)"/>
<ellipse cx="1014.8" cy="972.5" rx="22.5" ry="36.0" transform="rotate(-6.00 1014.8 972.5)" fill="url(#gBody)" stroke="#000" stroke-width="2"/><polygon points="921.0,946.7 1011.0,936.7 1018.6,1008.3 928.6,1018.3" fill="url(#gBody)" stroke="#000" stroke-width="2"/><ellipse cx="950.0" cy="979.7" rx="22.5" ry="36.0" transform="rotate(-6.00 950.0 979.7)" fill="none" stroke="#fff" stroke-width="3"/><ellipse cx="924.8" cy="982.5" rx="22.5" ry="36.0" transform="rotate(-6.00 924.8 982.5)" fill="#ffffff" stroke="#000" stroke-width="2.5"/><ellipse cx="921.8" cy="982.0" rx="17.5" ry="31.0" transform="rotate(-6.00 921.8 982.0)" fill="url(#gCap)"/>
<ellipse cx="1067.7" cy="943.5" rx="22.5" ry="36.0" transform="rotate(-6.00 1067.7 943.5)" fill="url(#gBody)" stroke="#000" stroke-width="2"/><polygon points="973.9,917.7 1063.9,907.7 1071.4,979.3 981.4,989.3" fill="url(#gBody)" stroke="#000" stroke-width="2"/><ellipse cx="1002.9" cy="950.7" rx="22.5" ry="36.0" transform="rotate(-6.00 1002.9 950.7)" fill="none" stroke="#fff" stroke-width="3"/><ellipse cx="977.7" cy="953.5" rx="22.5" ry="36.0" transform="rotate(-6.00 977.7 953.5)" fill="#ffffff" stroke="#000" stroke-width="2.5"/><ellipse cx="974.7" cy="953.0" rx="17.5" ry="31.0" transform="rotate(-6.00 974.7 953.0)" fill="url(#gCap)"/>
<ellipse cx="1112.8" cy="891.8" rx="22.5" ry="36.0" transform="rotate(-6.00 1112.8 891.8)" fill="url(#gBody)" stroke="#000" stroke-width="2"/><polygon points="1019.1,866.0 1109.1,856.0 1116.6,927.6 1026.6,937.6" fill="url(#gBody)" stroke="#000" stroke-width="2"/><ellipse cx="1048.0" cy="899.0" rx="22.5" ry="36.0" transform="rotate(-6.00 1048.0 899.0)" fill="none" stroke="#fff" stroke-width="3"/><ellipse cx="1022.8" cy="901.8" rx="22.5" ry="36.0" transform="rotate(-6.00 1022.8 901.8)" fill="#ffffff" stroke="#000" stroke-width="2.5"/><ellipse cx="1019.8" cy="901.3" rx="17.5" ry="31.0" transform="rotate(-6.00 1019.8 901.3)" fill="url(#gCap)"/>
</g></g>
<path d="M1053.6,672.6 L1053.6,681.4 L1053.4,690.2 L1053.1,698.9 L1052.6,707.6 L1052.0,716.2 L1051.2,724.8 L1050.3,733.2 L1049.3,741.6 L1048.1,749.9 L1046.7,758.2 L1045.3,766.3 L1043.7,774.3 L1041.9,782.2 L1040.0,790.0 L1038.0,797.7 L1035.8,805.3 L1033.5,812.7 L1031.1,820.0 L1028.5,827.1 L1025.8,834.1 L1023.0,841.0 L1020.1,847.7 L1017.0,854.2 L1013.8,860.6 L1010.5,866.8 L1007.1,872.8 L1003.5,878.7 L999.9,884.4 L996.1,889.9 L992.3,895.2 L988.3,900.3 L984.2,905.2 L980.1,909.9 L975.8,914.4 L971.5,918.7 L967.0,922.8 L962.5,926.7 L957.9,930.4 L953.2,933.8 L948.4,937.1 L943.6,940.1 L938.7,942.9 L933.7,945.4 L928.7,947.8 L923.6,949.9 L918.4,951.8 L913.2,953.4 L908.0,954.8 L902.7,956.0 L897.3,956.9 L892.0,957.6 L886.5,958.1 L881.1,958.3 L875.6,958.3 L870.2,958.1 L864.7,957.6 L859.1,956.9 L853.6,955.9 L848.1,954.7 L842.5,953.3 L837.0,951.7 L831.5,949.8 L825.9,947.7 L820.4,945.3 L814.9,942.8 L809.5,940.0 L804.0,936.9 L798.6,933.7 L793.2,930.2 L787.9,926.5 L782.5,922.6 L777.3,918.5 L772.0,914.2 L766.9,909.7 L761.8,905.0 L756.7,900.1 L751.7,894.9 L746.8,889.6 L741.9,884.1 L737.1,878.4 L732.4,872.6 L727.7,866.5 L723.2,860.3 L718.7,853.9 L714.3,847.4 L710.0,840.7 L705.8,833.8 L701.7,826.8 L697.7,819.6 L693.7,812.3 L689.9,804.9 L686.2,797.3 L682.7,789.6 L679.2,781.8 L675.8,773.9 L672.6,765.9 L669.5,757.8 L666.5,749.5 L663.6,741.2 L660.8,732.8 L658.2,724.3 L655.7,715.8 L653.4,707.2 L651.2,698.5 L649.1,689.8 L647.1,681.0 L645.3,672.1 L643.6,663.3 L642.1,654.4 L640.7,645.5 L639.4,636.5 L638.3,627.6 L637.4,618.6 L636.5,609.7 L635.8,600.7 L635.3,591.8 L634.9,582.9 L634.7,574.0 L634.6,565.1 L634.6,556.3 L634.8,547.5 L635.2,538.8 L635.7,530.1 L636.3,521.5 L637.1,513.0 L638.0,504.5 L639.1,496.1 L640.3,487.8 L641.7,479.6 L643.2,471.5 L644.8,463.5 L646.6,455.6 L648.5,447.8 L650.5,440.2 L652.7,432.6 L655.1,425.2 L657.5,418.0 L660.1,410.8 L662.8,403.8 L665.6,397.0 L668.6,390.3 L671.7,383.8 L674.9,377.5 L678.2,371.3 L681.7,365.3 L685.2,359.4 L688.9,353.8 L692.6,348.3 L696.5,343.0 L700.5,338.0 L704.6,333.1 L708.8,328.4 L713.0,323.9 L717.4,319.6 L721.9,315.6 L726.4,311.7 L731.0,308.1 L735.7,304.7 L740.5,301.5 L745.4,298.5 L750.3,295.7 L755.3,293.2 L760.3,290.9 L765.4,288.8 L770.6,287.0 L775.8,285.4 L781.0,284.0 L786.3,282.9 L791.7,282.0 L797.1,281.3 L802.5,280.9 L807.9,280.7 L813.4,280.7 L818.9,281.0 L824.4,281.5 L829.9,282.2 L835.4,283.2 L841.0,284.4 L846.5,285.9 L852.0,287.6 L857.6,289.5 L863.1,291.7 L868.6,294.0 L874.1,296.7 L879.5,299.5 L885.0,302.5 L882.5,334.0 L877.7,331.4 L872.8,328.9 L867.8,326.7 L862.9,324.6 L857.9,322.8 L853.0,321.1 L848.0,319.7 L843.0,318.5 L838.1,317.5 L833.1,316.7 L828.1,316.1 L823.2,315.7 L818.3,315.5 L813.3,315.6 L808.4,315.8 L803.6,316.3 L798.7,316.9 L793.9,317.8 L789.1,318.9 L784.4,320.2 L779.7,321.7 L775.1,323.4 L770.4,325.3 L765.9,327.4 L761.4,329.7 L756.9,332.3 L752.6,335.0 L748.2,337.9 L744.0,341.0 L739.8,344.3 L735.7,347.8 L731.6,351.5 L727.7,355.3 L723.8,359.4 L720.0,363.6 L716.3,368.0 L712.7,372.6 L709.1,377.3 L705.7,382.2 L702.4,387.3 L699.1,392.6 L696.0,397.9 L692.9,403.5 L690.0,409.2 L687.2,415.0 L684.5,421.0 L681.8,427.1 L679.4,433.4 L677.0,439.8 L674.7,446.3 L672.6,452.9 L670.5,459.6 L668.6,466.5 L666.8,473.5 L665.2,480.5 L663.6,487.7 L662.2,494.9 L660.9,502.2 L659.7,509.6 L658.7,517.1 L657.8,524.7 L657.0,532.3 L656.4,540.0 L655.9,547.7 L655.5,555.5 L655.2,563.3 L655.1,571.2 L655.1,579.1 L655.2,587.0 L655.5,594.9 L655.9,602.9 L656.4,610.9 L657.1,618.9 L657.9,626.8 L658.8,634.8 L659.8,642.8 L661.0,650.7 L662.3,658.6 L663.7,666.5 L665.3,674.4 L667.0,682.2 L668.8,690.0 L670.7,697.7 L672.7,705.4 L674.9,713.0 L677.1,720.5 L679.5,728.0 L682.0,735.4 L684.7,742.7 L687.4,749.9 L690.2,757.1 L693.2,764.1 L696.2,771.0 L699.4,777.9 L702.6,784.6 L706.0,791.2 L709.4,797.7 L712.9,804.0 L716.6,810.3 L720.3,816.4 L724.1,822.3 L728.0,828.2 L731.9,833.8 L736.0,839.3 L740.1,844.7 L744.3,849.9 L748.6,855.0 L752.9,859.9 L757.3,864.6 L761.7,869.1 L766.2,873.5 L770.8,877.7 L775.4,881.7 L780.1,885.6 L784.8,889.2 L789.5,892.7 L794.3,895.9 L799.1,899.0 L803.9,901.9 L808.8,904.6 L813.7,907.0 L818.6,909.3 L823.6,911.4 L828.5,913.3 L833.5,915.0 L838.4,916.4 L843.4,917.7 L848.4,918.7 L853.4,919.6 L858.3,920.2 L863.3,920.6 L868.2,920.8 L873.1,920.8 L878.0,920.6 L882.9,920.2 L887.8,919.6 L892.6,918.8 L897.4,917.7 L902.1,916.5 L906.8,915.0 L911.5,913.3 L916.1,911.5 L920.7,909.4 L925.2,907.1 L929.6,904.6 L934.0,901.9 L938.4,899.1 L942.6,896.0 L946.8,892.7 L950.9,889.3 L955.0,885.6 L959.0,881.8 L962.9,877.8 L966.7,873.6 L970.4,869.2 L974.0,864.7 L977.6,860.0 L981.0,855.1 L984.4,850.1 L987.7,844.8 L990.8,839.5 L993.9,834.0 L996.8,828.3 L999.7,822.5 L1002.4,816.5 L1005.1,810.4 L1007.6,804.2 L1010.0,797.8 L1012.3,791.4 L1014.5,784.8 L1016.5,778.0 L1018.4,771.2 L1020.2,764.3 L1021.9,757.2 L1023.5,750.1 L1024.9,742.9 L1026.3,735.6 L1027.4,728.2 L1028.5,720.7 L1029.4,713.2 L1030.2,705.5 L1030.9,697.9 L1031.5,690.2 L1031.9,682.4 L1032.1,674.6 L1032.3,666.7Z" fill="url(#gInner)"/>
<path d="M1053.6,672.6 L1053.6,681.4 L1053.4,690.2 L1053.1,698.9 L1052.6,707.6 L1052.0,716.2 L1051.2,724.8 L1050.3,733.2 L1049.3,741.6 L1048.1,749.9 L1046.7,758.2 L1045.3,766.3 L1043.7,774.3 L1041.9,782.2 L1040.0,790.0 L1038.0,797.7 L1035.8,805.3 L1033.5,812.7 L1031.1,820.0 L1028.5,827.1 L1025.8,834.1 L1023.0,841.0 L1020.1,847.7 L1017.0,854.2 L1013.8,860.6 L1010.5,866.8 L1007.1,872.8 L1003.5,878.7 L999.9,884.4 L996.1,889.9 L992.3,895.2 L988.3,900.3 L984.2,905.2 L980.1,909.9 L975.8,914.4 L971.5,918.7 L967.0,922.8 L962.5,926.7 L957.9,930.4 L953.2,933.8 L948.4,937.1 L943.6,940.1 L938.7,942.9 L933.7,945.4 L928.7,947.8 L923.6,949.9 L918.4,951.8 L913.2,953.4 L908.0,954.8 L902.7,956.0 L897.3,956.9 L892.0,957.6 L886.5,958.1 L881.1,958.3 L875.6,958.3 L870.2,958.1 L864.7,957.6 L859.1,956.9 L853.6,955.9 L848.1,954.7 L842.5,953.3 L837.0,951.7 L831.5,949.8 L825.9,947.7 L820.4,945.3 L814.9,942.8 L809.5,940.0 L804.0,936.9 L798.6,933.7 L793.2,930.2 L787.9,926.5 L782.5,922.6 L777.3,918.5 L772.0,914.2 L766.9,909.7 L761.8,905.0 L756.7,900.1 L751.7,894.9 L746.8,889.6 L741.9,884.1 L737.1,878.4 L732.4,872.6 L727.7,866.5 L723.2,860.3 L718.7,853.9 L714.3,847.4 L710.0,840.7 L705.8,833.8 L701.7,826.8 L697.7,819.6 L693.7,812.3 L689.9,804.9 L686.2,797.3 L682.7,789.6 L679.2,781.8 L675.8,773.9 L672.6,765.9 L669.5,757.8 L666.5,749.5 L663.6,741.2 L660.8,732.8 L658.2,724.3 L655.7,715.8 L653.4,707.2 L651.2,698.5 L649.1,689.8 L647.1,681.0 L645.3,672.1 L643.6,663.3 L642.1,654.4 L640.7,645.5 L639.4,636.5 L638.3,627.6 L637.4,618.6 L636.5,609.7 L635.8,600.7 L635.3,591.8 L634.9,582.9 L634.7,574.0 L634.6,565.1 L634.6,556.3 L634.8,547.5 L635.2,538.8 L635.7,530.1 L636.3,521.5 L637.1,513.0 L638.0,504.5 L639.1,496.1 L640.3,487.8 L641.7,479.6 L643.2,471.5 L644.8,463.5 L646.6,455.6 L648.5,447.8 L650.5,440.2 L652.7,432.6 L655.1,425.2 L657.5,418.0 L660.1,410.8 L662.8,403.8 L665.6,397.0 L668.6,390.3 L671.7,383.8 L674.9,377.5 L678.2,371.3 L681.7,365.3 L685.2,359.4 L688.9,353.8 L692.6,348.3 L696.5,343.0 L700.5,338.0 L704.6,333.1 L708.8,328.4 L713.0,323.9 L717.4,319.6 L721.9,315.6 L726.4,311.7 L731.0,308.1 L735.7,304.7 L740.5,301.5 L745.4,298.5 L750.3,295.7 L755.3,293.2 L760.3,290.9 L765.4,288.8 L770.6,287.0 L775.8,285.4 L781.0,284.0 L786.3,282.9 L791.7,282.0 L797.1,281.3 L802.5,280.9 L807.9,280.7 L813.4,280.7 L818.9,281.0 L824.4,281.5 L829.9,282.2 L835.4,283.2 L841.0,284.4 L846.5,285.9 L852.0,287.6 L857.6,289.5 L863.1,291.7 L868.6,294.0 L874.1,296.7 L879.5,299.5 L885.0,302.5" fill="none" stroke="#000" stroke-width="3.5"/>
<clipPath id="cBore"><path d="M882.5,334.0 L877.6,331.3 L872.7,328.9 L867.8,326.6 L862.8,324.6 L857.8,322.7 L852.8,321.1 L847.8,319.7 L842.8,318.5 L837.8,317.4 L832.8,316.7 L827.9,316.1 L822.9,315.7 L817.9,315.5 L813.0,315.6 L808.1,315.9 L803.2,316.3 L798.3,317.0 L793.5,317.9 L788.7,319.0 L783.9,320.3 L779.2,321.9 L774.5,323.6 L769.9,325.6 L765.3,327.7 L760.8,330.1 L756.3,332.6 L751.9,335.4 L747.6,338.3 L743.3,341.5 L739.2,344.8 L735.0,348.4 L731.0,352.1 L727.0,356.0 L723.1,360.1 L719.3,364.4 L715.6,368.8 L712.0,373.5 L708.5,378.3 L705.0,383.3 L701.7,388.4 L698.4,393.7 L695.3,399.1 L692.3,404.8 L689.4,410.5 L686.5,416.4 L683.8,422.5 L681.2,428.7 L678.7,435.0 L676.4,441.4 L674.1,448.0 L672.0,454.7 L670.0,461.5 L668.1,468.4 L666.3,475.4 L664.7,482.5 L663.2,489.8 L661.8,497.1 L660.5,504.5 L659.4,511.9 L658.4,519.5 L657.5,527.1 L656.8,534.8 L656.2,542.5 L655.7,550.3 L655.4,558.1 L655.2,566.0 L655.1,573.9 L655.1,581.9 L655.3,589.8 L655.6,597.8 L656.1,605.8 L656.7,613.9 L657.4,621.9 L658.2,629.9 L659.2,637.9 L660.3,645.9 L661.5,653.9 L662.9,661.8 L664.3,669.7 L666.0,677.6 L667.7,685.5 L669.6,693.3 L671.5,701.0 L673.6,708.7 L675.9,716.3 L678.2,723.9 L680.7,731.3 L683.2,738.7 L685.9,746.0 L688.7,753.3 L691.6,760.4 L694.6,767.4 L697.7,774.4 L700.9,781.2 L704.3,787.9 L707.7,794.4 L711.2,800.9 L714.8,807.2 L718.5,813.4 L722.3,819.5 L726.1,825.4 L730.1,831.2 L734.1,836.8 L738.2,842.3 L742.4,847.6 L746.6,852.7 L751.0,857.7 L755.3,862.5 L759.8,867.2 L764.3,871.7 L768.9,875.9 L773.5,880.1 L778.1,884.0 L782.8,887.7 L787.6,891.3 L792.4,894.6 L797.2,897.8 L802.1,900.8 L807.0,903.6 L811.9,906.1 L816.8,908.5 L821.8,910.7 L826.7,912.6 L831.7,914.4 L836.7,915.9 L841.7,917.3 L846.7,918.4 L851.7,919.3 L856.7,920.0 L861.7,920.5 L866.6,920.8 L871.6,920.9 L876.5,920.7 L881.4,920.4 L886.3,919.8 L891.2,919.0 L896.0,918.0 L900.8,916.8 L905.5,915.4 L910.2,913.8 L914.9,912.0 L919.5,909.9 L924.0,907.7 L928.5,905.3 L932.9,902.6 L937.3,899.8 L941.6,896.7 L945.9,893.5 L950.0,890.1 L954.1,886.5 L958.1,882.7 L962.1,878.7 L965.9,874.5 L969.7,870.1 L973.3,865.6 L972.9,864.9 L968.0,862.2 L963.1,859.4 L958.2,856.3 L953.3,853.1 L948.6,849.6 L943.8,846.0 L939.1,842.2 L934.5,838.3 L929.9,834.1 L925.4,829.8 L920.9,825.3 L916.6,820.7 L912.2,815.9 L908.0,810.9 L903.8,805.8 L899.8,800.6 L895.8,795.2 L891.9,789.6 L888.1,783.9 L884.3,778.1 L880.7,772.1 L877.2,766.1 L873.7,759.9 L870.4,753.5 L867.2,747.1 L864.1,740.6 L861.0,733.9 L858.1,727.2 L855.4,720.3 L852.7,713.4 L850.1,706.4 L847.7,699.3 L845.4,692.2 L843.2,684.9 L841.1,677.6 L839.2,670.3 L837.3,662.9 L835.6,655.4 L834.1,647.9 L832.7,640.3 L831.4,632.8 L830.2,625.2 L829.1,617.5 L828.2,609.9 L827.5,602.3 L826.8,594.6 L826.3,586.9 L826.0,579.3 L825.8,571.6 L825.7,564.0 L825.7,556.4 L825.9,548.8 L826.2,541.3 L826.7,533.8 L827.3,526.3 L828.0,518.9 L828.8,511.5 L829.8,504.2 L831.0,497.0 L832.2,489.8 L833.6,482.7 L835.1,475.7 L836.8,468.7 L838.6,461.9 L840.5,455.1 L842.5,448.5 L844.6,441.9 L846.9,435.5 L849.3,429.1 L851.8,422.9 L854.5,416.8 L857.2,410.9 L860.1,405.0 L863.1,399.3 L866.1,393.8 L869.3,388.3 L872.6,383.0 L876.0,377.9 L879.5,372.9 L883.1,368.1 L886.8,363.5 L890.6,359.0 L894.5,354.6 L898.5,350.5 L902.5,346.5 L906.6,342.7 L910.9,339.0 L915.1,335.6Z"/></clipPath>
<path d="M882.5,334.0 L877.6,331.3 L872.7,328.9 L867.8,326.6 L862.8,324.6 L857.8,322.7 L852.8,321.1 L847.8,319.7 L842.8,318.5 L837.8,317.4 L832.8,316.7 L827.9,316.1 L822.9,315.7 L817.9,315.5 L813.0,315.6 L808.1,315.9 L803.2,316.3 L798.3,317.0 L793.5,317.9 L788.7,319.0 L783.9,320.3 L779.2,321.9 L774.5,323.6 L769.9,325.6 L765.3,327.7 L760.8,330.1 L756.3,332.6 L751.9,335.4 L747.6,338.3 L743.3,341.5 L739.2,344.8 L735.0,348.4 L731.0,352.1 L727.0,356.0 L723.1,360.1 L719.3,364.4 L715.6,368.8 L712.0,373.5 L708.5,378.3 L705.0,383.3 L701.7,388.4 L698.4,393.7 L695.3,399.1 L692.3,404.8 L689.4,410.5 L686.5,416.4 L683.8,422.5 L681.2,428.7 L678.7,435.0 L676.4,441.4 L674.1,448.0 L672.0,454.7 L670.0,461.5 L668.1,468.4 L666.3,475.4 L664.7,482.5 L663.2,489.8 L661.8,497.1 L660.5,504.5 L659.4,511.9 L658.4,519.5 L657.5,527.1 L656.8,534.8 L656.2,542.5 L655.7,550.3 L655.4,558.1 L655.2,566.0 L655.1,573.9 L655.1,581.9 L655.3,589.8 L655.6,597.8 L656.1,605.8 L656.7,613.9 L657.4,621.9 L658.2,629.9 L659.2,637.9 L660.3,645.9 L661.5,653.9 L662.9,661.8 L664.3,669.7 L666.0,677.6 L667.7,685.5 L669.6,693.3 L671.5,701.0 L673.6,708.7 L675.9,716.3 L678.2,723.9 L680.7,731.3 L683.2,738.7 L685.9,746.0 L688.7,753.3 L691.6,760.4 L694.6,767.4 L697.7,774.4 L700.9,781.2 L704.3,787.9 L707.7,794.4 L711.2,800.9 L714.8,807.2 L718.5,813.4 L722.3,819.5 L726.1,825.4 L730.1,831.2 L734.1,836.8 L738.2,842.3 L742.4,847.6 L746.6,852.7 L751.0,857.7 L755.3,862.5 L759.8,867.2 L764.3,871.7 L768.9,875.9 L773.5,880.1 L778.1,884.0 L782.8,887.7 L787.6,891.3 L792.4,894.6 L797.2,897.8 L802.1,900.8 L807.0,903.6 L811.9,906.1 L816.8,908.5 L821.8,910.7 L826.7,912.6 L831.7,914.4 L836.7,915.9 L841.7,917.3 L846.7,918.4 L851.7,919.3 L856.7,920.0 L861.7,920.5 L866.6,920.8 L871.6,920.9 L876.5,920.7 L881.4,920.4 L886.3,919.8 L891.2,919.0 L896.0,918.0 L900.8,916.8 L905.5,915.4 L910.2,913.8 L914.9,912.0 L919.5,909.9 L924.0,907.7 L928.5,905.3 L932.9,902.6 L937.3,899.8 L941.6,896.7 L945.9,893.5 L950.0,890.1 L954.1,886.5 L958.1,882.7 L962.1,878.7 L965.9,874.5 L969.7,870.1 L973.3,865.6 L972.9,864.9 L968.0,862.2 L963.1,859.4 L958.2,856.3 L953.3,853.1 L948.6,849.6 L943.8,846.0 L939.1,842.2 L934.5,838.3 L929.9,834.1 L925.4,829.8 L920.9,825.3 L916.6,820.7 L912.2,815.9 L908.0,810.9 L903.8,805.8 L899.8,800.6 L895.8,795.2 L891.9,789.6 L888.1,783.9 L884.3,778.1 L880.7,772.1 L877.2,766.1 L873.7,759.9 L870.4,753.5 L867.2,747.1 L864.1,740.6 L861.0,733.9 L858.1,727.2 L855.4,720.3 L852.7,713.4 L850.1,706.4 L847.7,699.3 L845.4,692.2 L843.2,684.9 L841.1,677.6 L839.2,670.3 L837.3,662.9 L835.6,655.4 L834.1,647.9 L832.7,640.3 L831.4,632.8 L830.2,625.2 L829.1,617.5 L828.2,609.9 L827.5,602.3 L826.8,594.6 L826.3,586.9 L826.0,579.3 L825.8,571.6 L825.7,564.0 L825.7,556.4 L825.9,548.8 L826.2,541.3 L826.7,533.8 L827.3,526.3 L828.0,518.9 L828.8,511.5 L829.8,504.2 L831.0,497.0 L832.2,489.8 L833.6,482.7 L835.1,475.7 L836.8,468.7 L838.6,461.9 L840.5,455.1 L842.5,448.5 L844.6,441.9 L846.9,435.5 L849.3,429.1 L851.8,422.9 L854.5,416.8 L857.2,410.9 L860.1,405.0 L863.1,399.3 L866.1,393.8 L869.3,388.3 L872.6,383.0 L876.0,377.9 L879.5,372.9 L883.1,368.1 L886.8,363.5 L890.6,359.0 L894.5,354.6 L898.5,350.5 L902.5,346.5 L906.6,342.7 L910.9,339.0 L915.1,335.6Z" fill="#aaa"/>
<g clip-path="url(#cBore)">
<polygon points="560.0,332.2 1100.0,208.0 1100.0,210.8 560.0,335.0" fill="#5c5c5c"/>
<polygon points="560.0,334.2 1100.0,210.0 1100.0,212.8 560.0,337.0" fill="#5b5b5b"/>
<polygon points="560.0,336.2 1100.0,212.0 1100.0,214.8 560.0,339.0" fill="#5b5b5b"/>
<polygon points="560.0,338.2 1100.0,214.0 1100.0,216.8 560.0,341.0" fill="#5a5a5a"/>
<polygon points="560.0,340.2 1100.0,216.0 1100.0,218.8 560.0,343.0" fill="#5a5a5a"/>
<polygon points="560.0,342.2 1100.0,218.0 1100.0,220.8 560.0,345.0" fill="#595959"/>
<polygon points="560.0,344.2 1100.0,220.0 1100.0,222.8 560.0,347.0" fill="#595959"/>
<polygon points="560.0,346.2 1100.0,222.0 1100.0,224.8 560.0,349.0" fill="#585858"/>
<polygon points="560.0,348.2 1100.0,224.0 1100.0,226.8 560.0,351.0" fill="#585858"/>
<polygon points="560.0,350.2 1100.0,226.0 1100.0,228.8 560.0,353.0" fill="#575757"/>
<polygon points="560.0,352.2 1100.0,228.0 1100.0,230.8 560.0,355.0" fill="#575757"/>
<polygon points="560.0,354.2 1100.0,230.0 1100.0,232.8 560.0,357.0" fill="#565656"/>
<polygon points="560.0,356.2 1100.0,232.0 1100.0,234.8 560.0,359.0" fill="#565656"/>
<polygon points="560.0,358.2 1100.0,234.0 1100.0,236.8 560.0,361.0" fill="#565656"/>
<polygon points="560.0,360.2 1100.0,236.0 1100.0,238.8 560.0,363.0" fill="#555555"/>
<polygon points="560.0,362.2 1100.0,238.0 1100.0,240.8 560.0,365.0" fill="#555555"/>
<polygon points="560.0,364.2 1100.0,240.0 1100.0,242.8 560.0,367.0" fill="#545454"/>
<polygon points="560.0,366.2 1100.0,242.0 1100.0,244.8 560.0,369.0" fill="#545454"/>
<polygon points="560.0,368.2 1100.0,244.0 1100.0,246.8 560.0,371.0" fill="#535353"/>
<polygon points="560.0,370.2 1100.0,246.0 1100.0,248.8 560.0,373.0" fill="#535353"/>
<polygon points="560.0,372.2 1100.0,248.0 1100.0,250.8 560.0,375.0" fill="#525252"/>
<polygon points="560.0,374.2 1100.0,250.0 1100.0,252.8 560.0,377.0" fill="#525252"/>
<polygon points="560.0,376.2 1100.0,252.0 1100.0,254.8 560.0,379.0" fill="#515151"/>
<polygon points="560.0,378.2 1100.0,254.0 1100.0,256.8 560.0,381.0" fill="#515151"/>
<polygon points="560.0,380.2 1100.0,256.0 1100.0,258.8 560.0,383.0" fill="#505050"/>
<polygon points="560.0,382.2 1100.0,258.0 1100.0,260.8 560.0,385.0" fill="#505050"/>
<polygon points="560.0,384.2 1100.0,260.0 1100.0,262.8 560.0,387.0" fill="#4f4f4f"/>
<polygon points="560.0,386.2 1100.0,262.0 1100.0,264.8 560.0,389.0" fill="#4e4e4e"/>
<polygon points="560.0,388.2 1100.0,264.0 1100.0,266.8 560.0,391.0" fill="#4e4e4e"/>
<polygon points="560.0,390.2 1100.0,266.0 1100.0,268.8 560.0,393.0" fill="#4d4d4d"/>
<polygon points="560.0,392.2 1100.0,268.0 1100.0,270.8 560.0,395.0" fill="#4c4c4c"/>
<polygon points="560.0,394.2 1100.0,270.0 1100.0,272.8 560.0,397.0" fill="#4b4b4b"/>
<polygon points="560.0,396.2 1100.0,272.0 1100.0,274.8 560.0,399.0" fill="#4b4b4b"/>
<polygon points="560.0,398.2 1100.0,274.0 1100.0,276.8 560.0,401.0" fill="#4a4a4a"/>
<polygon points="560.0,400.2 1100.0,276.0 1100.0,278.8 560.0,403.0" fill="#494949"/>
<polygon points="560.0,402.2 1100.0,278.0 1100.0,280.8 560.0,405.0" fill="#494949"/>
<polygon points="560.0,404.2 1100.0,280.0 1100.0,282.8 560.0,407.0" fill="#484848"/>
<polygon points="560.0,406.2 1100.0,282.0 1100.0,284.8 560.0,409.0" fill="#474747"/>
<polygon points="560.0,408.2 1100.0,284.0 1100.0,286.8 560.0,411.0" fill="#474747"/>
<polygon points="560.0,410.2 1100.0,286.0 1100.0,288.8 560.0,413.0" fill="#464646"/>
<polygon points="560.0,412.2 1100.0,288.0 1100.0,290.8 560.0,415.0" fill="#454545"/>
<polygon points="560.0,414.2 1100.0,290.0 1100.0,292.8 560.0,417.0" fill="#444444"/>
<polygon points="560.0,416.2 1100.0,292.0 1100.0,294.8 560.0,419.0" fill="#444444"/>
<polygon points="560.0,418.2 1100.0,294.0 1100.0,296.8 560.0,421.0" fill="#434343"/>
<polygon points="560.0,420.2 1100.0,296.0 1100.0,298.8 560.0,423.0" fill="#424242"/>
<polygon points="560.0,422.2 1100.0,298.0 1100.0,300.8 560.0,425.0" fill="#424242"/>
<polygon points="560.0,424.2 1100.0,300.0 1100.0,302.8 560.0,427.0" fill="#414141"/>
<polygon points="560.0,426.2 1100.0,302.0 1100.0,304.8 560.0,429.0" fill="#414141"/>
<polygon points="560.0,428.2 1100.0,304.0 1100.0,306.8 560.0,431.0" fill="#404040"/>
<polygon points="560.0,430.2 1100.0,306.0 1100.0,308.8 560.0,433.0" fill="#3f3f3f"/>
<polygon points="560.0,432.2 1100.0,308.0 1100.0,310.8 560.0,435.0" fill="#3f3f3f"/>
<polygon points="560.0,434.2 1100.0,310.0 1100.0,312.8 560.0,437.0" fill="#3e3e3e"/>
<polygon points="560.0,436.2 1100.0,312.0 1100.0,314.8 560.0,439.0" fill="#3e3e3e"/>
<polygon points="560.0,438.2 1100.0,314.0 1100.0,316.8 560.0,441.0" fill="#3d3d3d"/>
<polygon points="560.0,440.2 1100.0,316.0 1100.0,318.8 560.0,443.0" fill="#3d3d3d"/>
<polygon points="560.0,442.2 1100.0,318.0 1100.0,320.8 560.0,445.0" fill="#3c3c3c"/>
<polygon points="560.0,444.2 1100.0,320.0 1100.0,322.8 560.0,447.0" fill="#3b3b3b"/>
<polygon points="560.0,446.2 1100.0,322.0 1100.0,324.8 560.0,449.0" fill="#3b3b3b"/>
<polygon points="560.0,448.2 1100.0,324.0 1100.0,326.8 560.0,451.0" fill="#3a3a3a"/>
<polygon points="560.0,450.2 1100.0,326.0 1100.0,328.8 560.0,453.0" fill="#3b3b3b"/>
<polygon points="560.0,452.2 1100.0,328.0 1100.0,330.8 560.0,455.0" fill="#3c3c3c"/>
<polygon points="560.0,454.2 1100.0,330.0 1100.0,332.8 560.0,457.0" fill="#3e3e3e"/>
<polygon points="560.0,456.2 1100.0,332.0 1100.0,334.8 560.0,459.0" fill="#404040"/>
<polygon points="560.0,458.2 1100.0,334.0 1100.0,336.8 560.0,461.0" fill="#414141"/>
<polygon points="560.0,460.2 1100.0,336.0 1100.0,338.8 560.0,463.0" fill="#434343"/>
<polygon points="560.0,462.2 1100.0,338.0 1100.0,340.8 560.0,465.0" fill="#454545"/>
<polygon points="560.0,464.2 1100.0,340.0 1100.0,342.8 560.0,467.0" fill="#464646"/>
<polygon points="560.0,466.2 1100.0,342.0 1100.0,344.8 560.0,469.0" fill="#484848"/>
<polygon points="560.0,468.2 1100.0,344.0 1100.0,346.8 560.0,471.0" fill="#494949"/>
<polygon points="560.0,470.2 1100.0,346.0 1100.0,348.8 560.0,473.0" fill="#4b4b4b"/>
<polygon points="560.0,472.2 1100.0,348.0 1100.0,350.8 560.0,475.0" fill="#4d4d4d"/>
<polygon points="560.0,474.2 1100.0,350.0 1100.0,352.8 560.0,477.0" fill="#4e4e4e"/>
<polygon points="560.0,476.2 1100.0,352.0 1100.0,354.8 560.0,479.0" fill="#505050"/>
<polygon points="560.0,478.2 1100.0,354.0 1100.0,356.8 560.0,481.0" fill="#565656"/>
<polygon points="560.0,480.2 1100.0,356.0 1100.0,358.8 560.0,483.0" fill="#5b5b5b"/>
<polygon points="560.0,482.2 1100.0,358.0 1100.0,360.8 560.0,485.0" fill="#616161"/>
<polygon points="560.0,484.2 1100.0,360.0 1100.0,362.8 560.0,487.0" fill="#676767"/>
<polygon points="560.0,486.2 1100.0,362.0 1100.0,364.8 560.0,489.0" fill="#6c6c6c"/>
<polygon points="560.0,488.2 1100.0,364.0 1100.0,366.8 560.0,491.0" fill="#727272"/>
<polygon points="560.0,490.2 1100.0,366.0 1100.0,368.8 560.0,493.0" fill="#787878"/>
<polygon points="560.0,492.2 1100.0,368.0 1100.0,370.8 560.0,495.0" fill="#7d7d7d"/>
<polygon points="560.0,494.2 1100.0,370.0 1100.0,372.8 560.0,497.0" fill="#838383"/>
<polygon points="560.0,496.2 1100.0,372.0 1100.0,374.8 560.0,499.0" fill="#888888"/>
<polygon points="560.0,498.2 1100.0,374.0 1100.0,376.8 560.0,501.0" fill="#8d8d8d"/>
<polygon points="560.0,500.2 1100.0,376.0 1100.0,378.8 560.0,503.0" fill="#929292"/>
<polygon points="560.0,502.2 1100.0,378.0 1100.0,380.8 560.0,505.0" fill="#979797"/>
<polygon points="560.0,504.2 1100.0,380.0 1100.0,382.8 560.0,507.0" fill="#9d9d9d"/>
<polygon points="560.0,506.2 1100.0,382.0 1100.0,384.8 560.0,509.0" fill="#a2a2a2"/>
<polygon points="560.0,508.2 1100.0,384.0 1100.0,386.8 560.0,511.0" fill="#a7a7a7"/>
<polygon points="560.0,510.2 1100.0,386.0 1100.0,388.8 560.0,513.0" fill="#acacac"/>
<polygon points="560.0,512.2 1100.0,388.0 1100.0,390.8 560.0,515.0" fill="#b1b1b1"/>
<polygon points="560.0,514.2 1100.0,390.0 1100.0,392.8 560.0,517.0" fill="#b6b6b6"/>
<polygon points="560.0,516.2 1100.0,392.0 1100.0,394.8 560.0,519.0" fill="#b9b9b9"/>
<polygon points="560.0,518.2 1100.0,394.0 1100.0,396.8 560.0,521.0" fill="#bdbdbd"/>
<polygon points="560.0,520.2 1100.0,396.0 1100.0,398.8 560.0,523.0" fill="#c1c1c1"/>
<polygon points="560.0,522.2 1100.0,398.0 1100.0,400.8 560.0,525.0" fill="#c4c4c4"/>
<polygon points="560.0,524.2 1100.0,400.0 1100.0,402.8 560.0,527.0" fill="#c8c8c8"/>
<polygon points="560.0,526.2 1100.0,402.0 1100.0,404.8 560.0,529.0" fill="#cbcbcb"/>
<polygon points="560.0,528.2 1100.0,404.0 1100.0,406.8 560.0,531.0" fill="#cfcfcf"/>
<polygon points="560.0,530.2 1100.0,406.0 1100.0,408.8 560.0,533.0" fill="#d3d3d3"/>
<polygon points="560.0,532.2 1100.0,408.0 1100.0,410.8 560.0,535.0" fill="#d6d6d6"/>
<polygon points="560.0,534.2 1100.0,410.0 1100.0,412.8 560.0,537.0" fill="#d9d9d9"/>
<polygon points="560.0,536.2 1100.0,412.0 1100.0,414.8 560.0,539.0" fill="#dcdcdc"/>
<polygon points="560.0,538.2 1100.0,414.0 1100.0,416.8 560.0,541.0" fill="#dedede"/>
<polygon points="560.0,540.2 1100.0,416.0 1100.0,418.8 560.0,543.0" fill="#e1e1e1"/>
<polygon points="560.0,542.2 1100.0,418.0 1100.0,420.8 560.0,545.0" fill="#e4e4e4"/>
<polygon points="560.0,544.2 1100.0,420.0 1100.0,422.8 560.0,547.0" fill="#e6e6e6"/>
<polygon points="560.0,546.2 1100.0,422.0 1100.0,424.8 560.0,549.0" fill="#e9e9e9"/>
<polygon points="560.0,548.2 1100.0,424.0 1100.0,426.8 560.0,551.0" fill="#ececec"/>
<polygon points="560.0,550.2 1100.0,426.0 1100.0,428.8 560.0,553.0" fill="#eeeeee"/>
<polygon points="560.0,552.2 1100.0,428.0 1100.0,430.8 560.0,555.0" fill="#f1f1f1"/>
<polygon points="560.0,554.2 1100.0,430.0 1100.0,432.8 560.0,557.0" fill="#f1f1f1"/>
<polygon points="560.0,556.2 1100.0,432.0 1100.0,434.8 560.0,559.0" fill="#eeeeee"/>
<polygon points="560.0,558.2 1100.0,434.0 1100.0,436.8 560.0,561.0" fill="#ececec"/>
<polygon points="560.0,560.2 1100.0,436.0 1100.0,438.8 560.0,563.0" fill="#eaeaea"/>
<polygon points="560.0,562.2 1100.0,438.0 1100.0,440.8 560.0,565.0" fill="#e7e7e7"/>
<polygon points="560.0,564.2 1100.0,440.0 1100.0,442.8 560.0,567.0" fill="#e5e5e5"/>
<polygon points="560.0,566.2 1100.0,442.0 1100.0,444.8 560.0,569.0" fill="#e2e2e2"/>
<polygon points="560.0,568.2 1100.0,444.0 1100.0,446.8 560.0,571.0" fill="#e0e0e0"/>
<polygon points="560.0,570.2 1100.0,446.0 1100.0,449.2 560.0,572.9" fill="#dedede"/>
<polygon points="560.0,572.2 1100.0,448.0 1100.0,452.2 560.0,574.5" fill="#dbdbdb"/>
<polygon points="560.0,573.9 1100.0,451.0 1100.0,455.2 560.0,576.2" fill="#d9d9d9"/>
<polygon points="560.0,575.5 1100.0,454.0 1100.0,458.2 560.0,577.8" fill="#d7d7d7"/>
<polygon points="560.0,577.1 1100.0,457.0 1100.0,461.2 560.0,579.5" fill="#d6d6d6"/>
<polygon points="560.0,578.8 1100.0,460.0 1100.0,464.2 560.0,581.1" fill="#d4d4d4"/>
<polygon points="560.0,580.5 1100.0,463.0 1100.0,467.2 560.0,582.8" fill="#d2d2d2"/>
<polygon points="560.0,582.1 1100.0,466.0 1100.0,470.2 560.0,584.4" fill="#d0d0d0"/>
<polygon points="560.0,583.8 1100.0,469.0 1100.0,473.2 560.0,586.1" fill="#cecece"/>
<polygon points="560.0,585.4 1100.0,472.0 1100.0,476.2 560.0,587.7" fill="#cccccc"/>
<polygon points="560.0,587.0 1100.0,475.0 1100.0,479.2 560.0,589.4" fill="#cbcbcb"/>
<polygon points="560.0,588.7 1100.0,478.0 1100.0,482.2 560.0,591.0" fill="#c9c9c9"/>
<polygon points="560.0,590.4 1100.0,481.0 1100.0,485.2 560.0,592.7" fill="#c8c8c8"/>
<polygon points="560.0,592.0 1100.0,484.0 1100.0,488.2 560.0,594.3" fill="#c7c7c7"/>
<polygon points="560.0,593.6 1100.0,487.0 1100.0,491.2 560.0,596.0" fill="#c6c6c6"/>
<polygon points="560.0,595.3 1100.0,490.0 1100.0,494.2 560.0,597.6" fill="#c5c5c5"/>
<polygon points="560.0,597.0 1100.0,493.0 1100.0,497.2 560.0,599.3" fill="#c4c4c4"/>
<polygon points="560.0,598.6 1100.0,496.0 1100.0,500.2 560.0,600.9" fill="#c4c4c4"/>
<polygon points="560.0,600.2 1100.0,499.0 1100.0,503.2 560.0,602.6" fill="#c3c3c3"/>
<polygon points="560.0,601.9 1100.0,502.0 1100.0,506.2 560.0,604.2" fill="#c2c2c2"/>
<polygon points="560.0,603.5 1100.0,505.0 1100.0,509.2 560.0,605.9" fill="#c1c1c1"/>
<polygon points="560.0,605.2 1100.0,508.0 1100.0,512.2 560.0,607.5" fill="#c0c0c0"/>
<polygon points="560.0,606.9 1100.0,511.0 1100.0,515.2 560.0,609.2" fill="#c0c0c0"/>
<polygon points="560.0,608.5 1100.0,514.0 1100.0,518.2 560.0,610.8" fill="#bfbfbf"/>
<polygon points="560.0,610.1 1100.0,517.0 1100.0,521.2 560.0,612.5" fill="#bebebe"/>
<polygon points="560.0,611.8 1100.0,520.0 1100.0,524.2 560.0,614.1" fill="#bdbdbd"/>
<polygon points="560.0,613.5 1100.0,523.0 1100.0,527.2 560.0,615.8" fill="#bcbcbc"/>
<polygon points="560.0,615.1 1100.0,526.0 1100.0,530.2 560.0,617.4" fill="#bcbcbc"/>
<polygon points="560.0,616.8 1100.0,529.0 1100.0,533.2 560.0,619.1" fill="#bbbbbb"/>
<polygon points="560.0,618.4 1100.0,532.0 1100.0,536.2 560.0,620.7" fill="#bababa"/>
<polygon points="560.0,620.0 1100.0,535.0 1100.0,539.2 560.0,622.4" fill="#b9b9b9"/>
<polygon points="560.0,621.7 1100.0,538.0 1100.0,542.2 560.0,624.0" fill="#b8b8b8"/>
<polygon points="560.0,623.4 1100.0,541.0 1100.0,545.2 560.0,625.7" fill="#b7b7b7"/>
<polygon points="560.0,625.0 1100.0,544.0 1100.0,548.2 560.0,627.3" fill="#b5b5b5"/>
<polygon points="560.0,626.6 1100.0,547.0 1100.0,551.2 560.0,629.0" fill="#b3b3b3"/>
<polygon points="560.0,628.3 1100.0,550.0 1100.0,554.2 560.0,630.6" fill="#b1b1b1"/>
<polygon points="560.0,630.0 1100.0,553.0 1100.0,557.2 560.0,632.3" fill="#afafaf"/>
<polygon points="560.0,631.6 1100.0,556.0 1100.0,560.2 560.0,633.9" fill="#adadad"/>
<polygon points="560.0,633.2 1100.0,559.0 1100.0,563.2 560.0,635.6" fill="#ababab"/>
<polygon points="560.0,634.9 1100.0,562.0 1100.0,566.2 560.0,637.2" fill="#a9a9a9"/>
<polygon points="560.0,636.5 1100.0,565.0 1100.0,568.9 560.0,639.0" fill="#a7a7a7"/>
<polygon points="560.0,638.2 1100.0,568.0 1100.0,571.3 560.0,640.8" fill="#a7a7a7"/>
<polygon points="560.0,640.1 1100.0,570.4 1100.0,573.7 560.0,642.7" fill="#aaaaaa"/>
<polygon points="560.0,642.0 1100.0,572.7 1100.0,576.0 560.0,644.6" fill="#acacac"/>
<polygon points="560.0,643.8 1100.0,575.1 1100.0,578.4 560.0,646.5" fill="#afafaf"/>
<polygon points="560.0,645.7 1100.0,577.4 1100.0,580.7 560.0,648.3" fill="#b2b2b2"/>
<polygon points="560.0,647.6 1100.0,579.8 1100.0,583.1 560.0,650.2" fill="#b4b4b4"/>
<polygon points="560.0,649.5 1100.0,582.1 1100.0,585.4 560.0,652.1" fill="#b7b7b7"/>
<polygon points="560.0,651.3 1100.0,584.5 1100.0,587.8 560.0,654.0" fill="#bababa"/>
<polygon points="560.0,653.2 1100.0,586.8 1100.0,590.1 560.0,655.8" fill="#bcbcbc"/>
<polygon points="560.0,655.1 1100.0,589.2 1100.0,592.5 560.0,657.7" fill="#bfbfbf"/>
<polygon points="560.0,657.0 1100.0,591.6 1100.0,594.9 560.0,659.6" fill="#c1c1c1"/>
<polygon points="560.0,658.8 1100.0,593.9 1100.0,597.2 560.0,661.5" fill="#c2c2c2"/>
<polygon points="560.0,660.7 1100.0,596.3 1100.0,599.6 560.0,663.3" fill="#c4c4c4"/>
<polygon points="560.0,662.6 1100.0,598.6 1100.0,601.9 560.0,665.2" fill="#c6c6c6"/>
<polygon points="560.0,664.5 1100.0,601.0 1100.0,604.3 560.0,667.1" fill="#c7c7c7"/>
<polygon points="560.0,666.3 1100.0,603.3 1100.0,606.6 560.0,669.0" fill="#c9c9c9"/>
<polygon points="560.0,668.2 1100.0,605.7 1100.0,609.0 560.0,670.8" fill="#cacaca"/>
<polygon points="560.0,670.1 1100.0,608.0 1100.0,611.3 560.0,672.7" fill="#cccccc"/>
<polygon points="560.0,672.0 1100.0,610.4 1100.0,613.7 560.0,674.6" fill="#cecece"/>
<polygon points="560.0,673.8 1100.0,612.8 1100.0,616.1 560.0,676.5" fill="#cfcfcf"/>
<polygon points="560.0,675.7 1100.0,615.1 1100.0,618.4 560.0,678.3" fill="#d0d0d0"/>
<polygon points="560.0,677.6 1100.0,617.5 1100.0,620.8 560.0,680.2" fill="#d1d1d1"/>
<polygon points="560.0,679.5 1100.0,619.8 1100.0,623.1 560.0,682.1" fill="#d2d2d2"/>
<polygon points="560.0,681.3 1100.0,622.2 1100.0,625.5 560.0,684.0" fill="#d3d3d3"/>
<polygon points="560.0,683.2 1100.0,624.5 1100.0,627.8 560.0,685.8" fill="#d4d4d4"/>
<polygon points="560.0,685.1 1100.0,626.9 1100.0,630.2 560.0,687.7" fill="#d4d4d4"/>
<polygon points="560.0,687.0 1100.0,629.2 1100.0,632.5 560.0,689.6" fill="#d5d5d5"/>
<polygon points="560.0,688.8 1100.0,631.6 1100.0,634.9 560.0,691.5" fill="#d6d6d6"/>
<polygon points="560.0,690.7 1100.0,634.0 1100.0,637.3 560.0,693.3" fill="#d7d7d7"/>
<polygon points="560.0,692.6 1100.0,636.3 1100.0,639.6 560.0,695.2" fill="#d8d8d8"/>
<polygon points="560.0,694.5 1100.0,638.7 1100.0,642.0 560.0,697.1" fill="#d8d8d8"/>
<polygon points="560.0,696.3 1100.0,641.0 1100.0,644.3 560.0,699.0" fill="#d7d7d7"/>
<polygon points="560.0,698.2 1100.0,643.4 1100.0,646.7 560.0,700.8" fill="#d7d7d7"/>
<polygon points="560.0,700.1 1100.0,645.7 1100.0,649.0 560.0,702.7" fill="#d7d7d7"/>
<polygon points="560.0,702.0 1100.0,648.1 1100.0,651.4 560.0,704.6" fill="#d6d6d6"/>
<polygon points="560.0,703.8 1100.0,650.4 1100.0,653.7 560.0,706.5" fill="#d6d6d6"/>
<polygon points="560.0,705.7 1100.0,652.8 1100.0,656.1 560.0,708.3" fill="#d5d5d5"/>
<polygon points="560.0,707.6 1100.0,655.2 1100.0,658.5 560.0,710.2" fill="#d5d5d5"/>
<polygon points="560.0,709.5 1100.0,657.5 1100.0,660.8 560.0,712.1" fill="#d5d5d5"/>
<polygon points="560.0,711.3 1100.0,659.9 1100.0,663.2 560.0,714.0" fill="#d4d4d4"/>
<polygon points="560.0,713.2 1100.0,662.2 1100.0,665.5 560.0,715.8" fill="#d4d4d4"/>
<polygon points="560.0,715.1 1100.0,664.6 1100.0,667.9 560.0,717.7" fill="#d3d3d3"/>
<polygon points="560.0,717.0 1100.0,666.9 1100.0,670.2 560.0,719.6" fill="#d2d2d2"/>
<polygon points="560.0,718.8 1100.0,669.3 1100.0,672.6 560.0,721.5" fill="#d1d1d1"/>
<polygon points="560.0,720.7 1100.0,671.6 1100.0,674.9 560.0,723.4" fill="#d0d0d0"/>
<polygon points="560.0,722.6 1100.0,674.0 1100.0,677.3 560.0,725.2" fill="#d0d0d0"/>
<polygon points="560.0,724.5 1100.0,676.4 1100.0,679.7 560.0,727.1" fill="#cfcfcf"/>
<polygon points="560.0,726.4 1100.0,678.7 1100.0,682.0 560.0,729.0" fill="#cecece"/>
<polygon points="560.0,728.2 1100.0,681.1 1100.0,684.4 560.0,730.9" fill="#cdcdcd"/>
<polygon points="560.0,730.1 1100.0,683.4 1100.0,686.7 560.0,732.7" fill="#cccccc"/>
<polygon points="560.0,732.0 1100.0,685.8 1100.0,689.1 560.0,734.6" fill="#cbcbcb"/>
<polygon points="560.0,733.9 1100.0,688.1 1100.0,691.4 560.0,736.5" fill="#c9c9c9"/>
<polygon points="560.0,735.7 1100.0,690.5 1100.0,693.8 560.0,738.4" fill="#c8c8c8"/>
<polygon points="560.0,737.6 1100.0,692.8 1100.0,696.1 560.0,740.2" fill="#c6c6c6"/>
<polygon points="560.0,739.5 1100.0,695.2 1100.0,698.5 560.0,742.1" fill="#c4c4c4"/>
<polygon points="560.0,741.4 1100.0,697.6 1100.0,700.9 560.0,744.0" fill="#c3c3c3"/>
<polygon points="560.0,743.2 1100.0,699.9 1100.0,703.2 560.0,745.9" fill="#c1c1c1"/>
<polygon points="560.0,745.1 1100.0,702.3 1100.0,705.6 560.0,747.7" fill="#bfbfbf"/>
<polygon points="560.0,747.0 1100.0,704.6 1100.0,707.9 560.0,749.6" fill="#bebebe"/>
<polygon points="560.0,748.9 1100.0,707.0 1100.0,710.3 560.0,751.5" fill="#bcbcbc"/>
<polygon points="560.0,750.7 1100.0,709.3 1100.0,712.6 560.0,753.4" fill="#b9b9b9"/>
<polygon points="560.0,752.6 1100.0,711.7 1100.0,715.0 560.0,755.2" fill="#b4b4b4"/>
<polygon points="560.0,754.5 1100.0,714.0 1100.0,717.3 560.0,757.1" fill="#b0b0b0"/>
<polygon points="560.0,756.4 1100.0,716.4 1100.0,719.7 560.0,759.0" fill="#ababab"/>
<polygon points="560.0,758.2 1100.0,718.8 1100.0,722.1 560.0,760.9" fill="#a7a7a7"/>
<polygon points="560.0,760.1 1100.0,721.1 1100.0,724.4 560.0,762.7" fill="#a2a2a2"/>
<polygon points="560.0,762.0 1100.0,723.5 1100.0,726.8 560.0,764.6" fill="#9e9e9e"/>
<polygon points="560.0,763.9 1100.0,725.8 1100.0,729.1 560.0,766.5" fill="#999999"/>
<polygon points="560.0,765.8 1100.0,728.1 1100.0,731.3 560.0,768.4" fill="#9e9e9e"/>
<polygon points="560.0,767.7 1100.0,730.4 1100.0,733.6 560.0,770.3" fill="#a3a3a3"/>
<polygon points="560.0,769.6 1100.0,732.7 1100.0,735.9 560.0,772.2" fill="#a9a9a9"/>
<polygon points="560.0,771.5 1100.0,735.0 1100.0,738.2 560.0,774.1" fill="#aeaeae"/>
<polygon points="560.0,773.4 1100.0,737.3 1100.0,740.4 560.0,776.0" fill="#b3b3b3"/>
<polygon points="560.0,775.3 1100.0,739.5 1100.0,742.7 560.0,777.9" fill="#b8b8b8"/>
<polygon points="560.0,777.2 1100.0,741.8 1100.0,745.0 560.0,779.8" fill="#bdbdbd"/>
<polygon points="560.0,779.1 1100.0,744.1 1100.0,747.3 560.0,781.7" fill="#c1c1c1"/>
<polygon points="560.0,781.0 1100.0,746.4 1100.0,749.6 560.0,783.6" fill="#c2c2c2"/>
<polygon points="560.0,782.9 1100.0,748.6 1100.0,751.8 560.0,785.5" fill="#c4c4c4"/>
<polygon points="560.0,784.8 1100.0,750.9 1100.0,754.1 560.0,787.4" fill="#c6c6c6"/>
<polygon points="560.0,786.7 1100.0,753.2 1100.0,756.4 560.0,789.3" fill="#c7c7c7"/>
<polygon points="560.0,788.6 1100.0,755.5 1100.0,758.7 560.0,791.2" fill="#c9c9c9"/>
<polygon points="560.0,790.5 1100.0,757.8 1100.0,760.9 560.0,793.1" fill="#cacaca"/>
<polygon points="560.0,792.4 1100.0,760.0 1100.0,763.2 560.0,795.1" fill="#cccccc"/>
<polygon points="560.0,794.3 1100.0,762.3 1100.0,765.5 560.0,797.0" fill="#c7c7c7"/>
<polygon points="560.0,796.2 1100.0,764.6 1100.0,767.8 560.0,798.9" fill="#c3c3c3"/>
<polygon points="560.0,798.1 1100.0,766.9 1100.0,770.1 560.0,800.8" fill="#bebebe"/>
<polygon points="560.0,800.0 1100.0,769.1 1100.0,772.3 560.0,802.7" fill="#bababa"/>
<polygon points="560.0,801.9 1100.0,771.4 1100.0,774.6 560.0,804.6" fill="#b5b5b5"/>
<polygon points="560.0,803.8 1100.0,773.7 1100.0,776.9 560.0,806.5" fill="#b1b1b1"/>
<polygon points="560.0,805.7 1100.0,776.0 1100.0,779.2 560.0,808.4" fill="#acacac"/>
<polygon points="560.0,807.6 1100.0,778.3 1100.0,781.5 560.0,810.3" fill="#a7a7a7"/>
<polygon points="560.0,809.5 1100.0,780.5 1100.0,783.7 560.0,812.2" fill="#a0a0a0"/>
<polygon points="560.0,811.4 1100.0,782.8 1100.0,786.0 560.0,814.1" fill="#9a9a9a"/>
<polygon points="560.0,813.3 1100.0,785.1 1100.0,788.3 560.0,816.0" fill="#949494"/>
<polygon points="560.0,815.2 1100.0,787.4 1100.0,790.6 560.0,817.9" fill="#8d8d8d"/>
<polygon points="560.0,817.1 1100.0,789.7 1100.0,792.8 560.0,819.8" fill="#878787"/>
<polygon points="560.0,819.0 1100.0,791.9 1100.0,795.1 560.0,821.7" fill="#808080"/>
<polygon points="560.0,820.9 1100.0,794.2 1100.0,797.4 560.0,823.6" fill="#7a7a7a"/>
<polygon points="560.0,822.8 1100.0,796.5 1100.0,799.7 560.0,825.5" fill="#757575"/>
<polygon points="560.0,824.7 1100.0,798.8 1100.0,802.0 560.0,827.4" fill="#707070"/>
<polygon points="560.0,826.6 1100.0,801.0 1100.0,804.2 560.0,829.3" fill="#6b6b6b"/>
<polygon points="560.0,828.5 1100.0,803.3 1100.0,806.5 560.0,831.2" fill="#666666"/>
<polygon points="560.0,830.4 1100.0,805.6 1100.0,808.8 560.0,833.1" fill="#616161"/>
<polygon points="560.0,832.3 1100.0,807.9 1100.0,811.1 560.0,835.0" fill="#5c5c5c"/>
<polygon points="560.0,834.2 1100.0,810.2 1100.0,813.3 560.0,836.9" fill="#575757"/>
<polygon points="560.0,836.1 1100.0,812.4 1100.0,815.6 560.0,838.8" fill="#535353"/>
<polygon points="560.0,838.1 1100.0,814.7 1100.0,817.9 560.0,840.7" fill="#4e4e4e"/>
<polygon points="560.0,840.0 1100.0,817.0 1100.0,820.2 560.0,842.6" fill="#4a4a4a"/>
<polygon points="560.0,841.9 1100.0,819.3 1100.0,822.5 560.0,844.5" fill="#454545"/>
<polygon points="560.0,843.8 1100.0,821.5 1100.0,824.7 560.0,846.4" fill="#414141"/>
<polygon points="560.0,845.7 1100.0,823.8 1100.0,827.0 560.0,848.3" fill="#3c3c3c"/>
<polygon points="560.0,847.6 1100.0,826.1 1100.0,829.3 560.0,850.2" fill="#383838"/>
<polygon points="560.0,849.5 1100.0,828.4 1100.0,831.6 560.0,852.1" fill="#333333"/>
<polygon points="560.0,851.4 1100.0,830.7 1100.0,833.9 560.0,854.0" fill="#313131"/>
<polygon points="560.0,853.3 1100.0,832.9 1100.0,836.1 560.0,855.9" fill="#2f2f2f"/>
<polygon points="560.0,855.2 1100.0,835.2 1100.0,838.4 560.0,857.8" fill="#2d2d2d"/>
<polygon points="560.0,857.1 1100.0,837.5 1100.0,840.7 560.0,859.7" fill="#2b2b2b"/>
<polygon points="560.0,859.0 1100.0,839.8 1100.0,843.0 560.0,861.6" fill="#282828"/>
<polygon points="560.0,860.9 1100.0,842.1 1100.0,845.2 560.0,863.5" fill="#262626"/>
<polygon points="560.0,862.8 1100.0,844.3 1100.0,847.5 560.0,865.4" fill="#242424"/>
<polygon points="560.0,864.7 1100.0,846.6 1100.0,849.8 560.0,867.4" fill="#222222"/>
<polygon points="560.0,866.6 1100.0,848.9 1100.0,852.1 560.0,869.3" fill="#202020"/>
<polygon points="560.0,868.5 1100.0,851.2 1100.0,854.4 560.0,871.2" fill="#1e1e1e"/>
<polygon points="560.0,870.4 1100.0,853.4 1100.0,856.6 560.0,873.1" fill="#1e1e1e"/>
<polygon points="560.0,872.3 1100.0,855.7 1100.0,858.8 560.0,875.0" fill="#1e1e1e"/>
<polygon points="560.0,874.2 1100.0,858.0 1100.0,860.8 560.0,877.0" fill="#1e1e1e"/>
<polygon points="560.0,876.2 1100.0,860.0 1100.0,862.8 560.0,879.0" fill="#1e1e1e"/>
<polygon points="560.0,878.2 1100.0,862.0 1100.0,864.8 560.0,881.0" fill="#1e1e1e"/>
<polygon points="560.0,880.2 1100.0,864.0 1100.0,866.8 560.0,883.0" fill="#1e1e1e"/>
<polygon points="560.0,882.2 1100.0,866.0 1100.0,868.8 560.0,885.0" fill="#1e1e1e"/>
<polygon points="560.0,884.2 1100.0,868.0 1100.0,870.8 560.0,887.0" fill="#1e1e1e"/>
<polygon points="560.0,886.2 1100.0,870.0 1100.0,872.8 560.0,889.0" fill="#1e1e1e"/>
<polygon points="560.0,888.2 1100.0,872.0 1100.0,874.8 560.0,891.0" fill="#1e1e1e"/>
<polygon points="560.0,890.2 1100.0,874.0 1100.0,876.8 560.0,893.0" fill="#1e1e1e"/>
<polygon points="560.0,892.2 1100.0,876.0 1100.0,878.8 560.0,895.0" fill="#1e1e1e"/>
<polygon points="560.0,894.2 1100.0,878.0 1100.0,880.8 560.0,897.0" fill="#1e1e1e"/>
<polygon points="560.0,896.2 1100.0,880.0 1100.0,882.8 560.0,899.0" fill="#1e1e1e"/>
<polygon points="560.0,898.2 1100.0,882.0 1100.0,884.8 560.0,901.0" fill="#1d1d1d"/>
<polygon points="560.0,900.2 1100.0,884.0 1100.0,886.8 560.0,903.0" fill="#1d1d1d"/>
<polygon points="560.0,902.2 1100.0,886.0 1100.0,888.8 560.0,905.0" fill="#1d1d1d"/>
<polygon points="560.0,904.2 1100.0,888.0 1100.0,890.8 560.0,907.0" fill="#1d1d1d"/>
<polygon points="560.0,906.2 1100.0,890.0 1100.0,892.8 560.0,909.0" fill="#1d1d1d"/>
<polygon points="560.0,908.2 1100.0,892.0 1100.0,894.8 560.0,911.0" fill="#1d1d1d"/>
<polygon points="560.0,910.2 1100.0,894.0 1100.0,896.8 560.0,913.0" fill="#1d1d1d"/>
<polygon points="560.0,912.2 1100.0,896.0 1100.0,898.8 560.0,915.0" fill="#1d1d1d"/>
<polygon points="560.0,914.2 1100.0,898.0 1100.0,900.8 560.0,917.0" fill="#1d1d1d"/>
<polygon points="560.0,916.2 1100.0,900.0 1100.0,902.8 560.0,919.0" fill="#1d1d1d"/>
<polygon points="560.0,918.2 1100.0,902.0 1100.0,904.8 560.0,921.0" fill="#1d1d1d"/>
<polygon points="560.0,920.2 1100.0,904.0 1100.0,906.8 560.0,923.0" fill="#1d1d1d"/>
<polygon points="560.0,922.2 1100.0,906.0 1100.0,908.8 560.0,925.0" fill="#1d1d1d"/>
<polygon points="560.0,924.2 1100.0,908.0 1100.0,910.8 560.0,927.0" fill="#1d1d1d"/>
<polygon points="560.0,926.2 1100.0,910.0 1100.0,912.8 560.0,929.0" fill="#1d1d1d"/>
<polygon points="560.0,928.2 1100.0,912.0 1100.0,914.8 560.0,931.0" fill="#1d1d1d"/>
<polygon points="560.0,930.2 1100.0,914.0 1100.0,916.8 560.0,933.0" fill="#1d1d1d"/>
<polygon points="560.0,932.2 1100.0,916.0 1100.0,918.8 560.0,935.0" fill="#1d1d1d"/>
<polygon points="560.0,934.2 1100.0,918.0 1100.0,920.8 560.0,937.0" fill="#1d1d1d"/>
<polygon points="560.0,936.2 1100.0,920.0 1100.0,922.8 560.0,939.0" fill="#1d1d1d"/>
<polygon points="560.0,938.2 1100.0,922.0 1100.0,924.8 560.0,941.0" fill="#1d1d1d"/>
<polygon points="560.0,940.2 1100.0,924.0 1100.0,926.8 560.0,943.0" fill="#1d1d1d"/>
<polygon points="560.0,942.2 1100.0,926.0 1100.0,928.8 560.0,945.0" fill="#1d1d1d"/>
<polygon points="560.0,944.2 1100.0,928.0 1100.0,930.8 560.0,947.0" fill="#1d1d1d"/>
<polygon points="560.0,946.2 1100.0,930.0 1100.0,932.8 560.0,949.0" fill="#1d1d1d"/>
<polygon points="560.0,948.2 1100.0,932.0 1100.0,934.8 560.0,951.0" fill="#1d1d1d"/>
<polygon points="560.0,950.2 1100.0,934.0 1100.0,936.8 560.0,953.0" fill="#1d1d1d"/>
<polygon points="560.0,952.2 1100.0,936.0 1100.0,938.8 560.0,955.0" fill="#1d1d1d"/>
<polygon points="560.0,954.2 1100.0,938.0 1100.0,940.8 560.0,957.0" fill="#1d1d1d"/>
<polygon points="560.0,956.2 1100.0,940.0 1100.0,942.8 560.0,959.0" fill="#1c1c1c"/>
<polygon points="560.0,958.2 1100.0,942.0 1100.0,944.8 560.0,961.0" fill="#1c1c1c"/>
<polygon points="560.0,960.2 1100.0,944.0 1100.0,946.8 560.0,963.0" fill="#1c1c1c"/>
<polygon points="560.0,962.2 1100.0,946.0 1100.0,948.8 560.0,965.0" fill="#1c1c1c"/>
<polygon points="560.0,964.2 1100.0,948.0 1100.0,950.8 560.0,967.0" fill="#1c1c1c"/>
<polygon points="560.0,966.2 1100.0,950.0 1100.0,952.8 560.0,969.0" fill="#1c1c1c"/>
<polygon points="560.0,968.2 1100.0,952.0 1100.0,954.8 560.0,971.0" fill="#1c1c1c"/>
<polygon points="560.0,970.2 1100.0,954.0 1100.0,956.8 560.0,973.0" fill="#1c1c1c"/>
<polygon points="560.0,972.2 1100.0,956.0 1100.0,958.8 560.0,975.0" fill="#1c1c1c"/>
<polygon points="560.0,974.2 1100.0,958.0 1100.0,960.8 560.0,977.0" fill="#1c1c1c"/>
<polygon points="560.0,976.2 1100.0,960.0 1100.0,962.8 560.0,979.0" fill="#1c1c1c"/>
<polygon points="560.0,978.2 1100.0,962.0 1100.0,964.8 560.0,981.0" fill="#1c1c1c"/>
<polygon points="560.0,980.2 1100.0,964.0 1100.0,966.8 560.0,983.0" fill="#1c1c1c"/>
<polygon points="560.0,982.2 1100.0,966.0 1100.0,968.8 560.0,985.0" fill="#1c1c1c"/>
</g>
<path d="M1032.3,666.7 L1032.1,674.6 L1031.9,682.4 L1031.5,690.2 L1030.9,697.9 L1030.2,705.5 L1029.4,713.2 L1028.5,720.7 L1027.4,728.2 L1026.3,735.6 L1024.9,742.9 L1023.5,750.1 L1021.9,757.2 L1020.2,764.3 L1018.4,771.2 L1016.5,778.0 L1014.5,784.8 L1012.3,791.4 L1010.0,797.8 L1007.6,804.2 L1005.1,810.4 L1002.4,816.5 L999.7,822.5 L996.8,828.3 L993.9,834.0 L990.8,839.5 L987.7,844.8 L984.4,850.1 L981.0,855.1 L977.6,860.0 L974.0,864.7 L970.4,869.2 L966.7,873.6 L962.9,877.8 L959.0,881.8 L955.0,885.6 L950.9,889.3 L946.8,892.7 L942.6,896.0 L938.4,899.1 L934.0,901.9 L929.6,904.6 L925.2,907.1 L920.7,909.4 L916.1,911.5 L911.5,913.3 L906.8,915.0 L902.1,916.5 L897.4,917.7 L892.6,918.8 L887.8,919.6 L882.9,920.2 L878.0,920.6 L873.1,920.8 L868.2,920.8 L863.3,920.6 L858.3,920.2 L853.4,919.6 L848.4,918.7 L843.4,917.7 L838.4,916.4 L833.5,915.0 L828.5,913.3 L823.6,911.4 L818.6,909.3 L813.7,907.0 L808.8,904.6 L803.9,901.9 L799.1,899.0 L794.3,895.9 L789.5,892.7 L784.8,889.2 L780.1,885.6 L775.4,881.7 L770.8,877.7 L766.2,873.5 L761.7,869.1 L757.3,864.6 L752.9,859.9 L748.6,855.0 L744.3,849.9 L740.1,844.7 L736.0,839.3 L731.9,833.8 L728.0,828.2 L724.1,822.3 L720.3,816.4 L716.6,810.3 L712.9,804.0 L709.4,797.7 L706.0,791.2 L702.6,784.6 L699.4,777.9 L696.2,771.0 L693.2,764.1 L690.2,757.1 L687.4,749.9 L684.7,742.7 L682.0,735.4 L679.5,728.0 L677.1,720.5 L674.9,713.0 L672.7,705.4 L670.7,697.7 L668.8,690.0 L667.0,682.2 L665.3,674.4 L663.7,666.5 L662.3,658.6 L661.0,650.7 L659.8,642.8 L658.8,634.8 L657.9,626.8 L657.1,618.9 L656.4,610.9 L655.9,602.9 L655.5,594.9 L655.2,587.0 L655.1,579.1 L655.1,571.2 L655.2,563.3 L655.5,555.5 L655.9,547.7 L656.4,540.0 L657.0,532.3 L657.8,524.7 L658.7,517.1 L659.7,509.6 L660.9,502.2 L662.2,494.9 L663.6,487.7 L665.2,480.5 L666.8,473.5 L668.6,466.5 L670.5,459.6 L672.6,452.9 L674.7,446.3 L677.0,439.8 L679.4,433.4 L681.8,427.1 L684.5,421.0 L687.2,415.0 L690.0,409.2 L692.9,403.5 L696.0,397.9 L699.1,392.6 L702.4,387.3 L705.7,382.2 L709.1,377.3 L712.7,372.6 L716.3,368.0 L720.0,363.6 L723.8,359.4 L727.7,355.3 L731.6,351.5 L735.7,347.8 L739.8,344.3 L744.0,341.0 L748.2,337.9 L752.6,335.0 L756.9,332.3 L761.4,329.7 L765.9,327.4 L770.4,325.3 L775.1,323.4 L779.7,321.7 L784.4,320.2 L789.1,318.9 L793.9,317.8 L798.7,316.9 L803.6,316.3 L808.4,315.8 L813.3,315.6 L818.3,315.5 L823.2,315.7 L828.1,316.1 L833.1,316.7 L838.1,317.5 L843.0,318.5 L848.0,319.7 L853.0,321.1 L857.9,322.8 L862.9,324.6 L867.8,326.7 L872.8,328.9 L877.7,331.4 L882.5,334.0" fill="none" stroke="#8a8a8a" stroke-width="1.5"/>
<path d="M721.9,361.5 L725.9,357.1 L730.0,353.0 L734.2,349.1 L738.5,345.4 L742.8,341.9 L747.3,338.6 L751.8,335.5 L756.3,332.6 L761.0,330.0 L765.7,327.5 L770.4,325.3 L775.3,323.3 L780.1,321.6 L785.1,320.0 L790.0,318.7 L795.0,317.6 L800.1,316.7 L805.1,316.1 L810.2,315.7 L815.4,315.5 L820.5,315.6 L825.7,315.9 L830.9,316.4 L836.0,317.1 L841.2,318.1 L846.4,319.3 L851.6,320.7 L856.8,322.4 L862.0,324.3 L867.2,326.4 L872.3,328.7 L877.4,331.2 L882.5,334.0" fill="none" stroke="#000" stroke-width="3.5"/>
<path d="M1035.7,669.2 L1035.5,677.2 L1035.2,685.1 L1034.7,693.0 L1034.2,700.8 L1033.4,708.6 L1032.6,716.4 L1031.6,724.0 L1030.5,731.6 L1029.3,739.1 L1027.9,746.5 L1026.4,753.9 L1024.8,761.1 L1023.1,768.2 L1021.2,775.3 L1019.2,782.2 L1017.1,789.0 L1014.9,795.7 L1012.5,802.3 L1010.1,808.7 L1007.5,815.0 L1004.8,821.2 L1002.0,827.2 L999.1,833.1 L996.0,838.9 L992.9,844.5 L989.7,849.9 L986.3,855.2 L982.9,860.3 L979.4,865.2 L975.7,870.0 L972.0,874.6 L968.2,879.0 L964.3,883.2 L960.3,887.3 L956.3,891.1 L952.2,894.8 L947.9,898.3 L943.7,901.6 L939.3,904.6 L934.9,907.5 L930.4,910.2 L925.9,912.7 L921.3,915.0 L916.6,917.1 L911.9,918.9 L907.2,920.6 L902.4,922.1 L897.5,923.3 L892.7,924.3 L887.7,925.1 L882.8,925.7 L877.8,926.1 L872.9,926.3 L867.8,926.3 L862.8,926.0 L857.8,925.6 L852.7,924.9 L847.7,924.0 L842.6,922.9 L837.6,921.6 L832.5,920.0 L827.5,918.3 L822.4,916.4 L817.4,914.2 L812.4,911.9 L807.4,909.3 L802.5,906.6 L797.6,903.6 L792.7,900.4 L787.8,897.1 L783.0,893.5 L778.2,889.8 L773.5,885.9 L768.8,881.8 L764.2,877.5 L759.6,873.0 L755.1,868.3 L750.6,863.5 L746.2,858.5 L741.9,853.4 L737.6,848.0 L733.5,842.5 L729.4,836.9 L725.3,831.1 L721.4,825.2 L717.5,819.1 L713.8,812.9 L710.1,806.5 L706.5,800.0 L703.0,793.4 L699.6,786.7 L696.3,779.8 L693.1,772.9 L690.1,765.8 L687.1,758.6 L684.2,751.3 L681.4,744.0 L678.8,736.5 L676.3,729.0 L673.8,721.4 L671.5,713.7 L669.4,705.9 L667.3,698.1 L665.4,690.3 L663.6,682.4 L661.9,674.4 L660.3,666.4 L658.9,658.4 L657.6,650.3 L656.4,642.2 L655.3,634.1 L654.4,626.0 L653.6,617.9 L653.0,609.8 L652.5,601.7 L652.1,593.6 L651.8,585.5 L651.7,577.4 L651.7,569.4 L651.8,561.4 L652.1,553.5 L652.5,545.6 L653.1,537.7 L653.7,529.9 L654.6,522.1 L655.5,514.5 L656.6,506.9 L657.8,499.3 L659.1,491.9 L660.5,484.5 L662.1,477.3 L663.8,470.1 L665.7,463.0 L667.6,456.1 L669.7,449.2 L671.9,442.5 L674.2,435.9 L676.6,429.4 L679.2,423.1 L681.9,416.9 L684.6,410.8 L687.5,404.9 L690.5,399.1 L693.6,393.4 L696.8,388.0 L700.1,382.7 L703.6,377.5 L707.1,372.5 L710.7,367.7 L714.4,363.1 L718.1,358.6 L722.0,354.3 L726.0,350.2 L730.0,346.3 L734.1,342.6 L738.3,339.1 L742.6,335.7 L746.9,332.6 L751.3,329.6 L755.8,326.9 L760.3,324.3 L764.9,322.0 L769.5,319.9 L774.2,317.9" fill="none" stroke="#fff" stroke-width="3"/>
<path d="M737.3,335.6 L741.7,332.1 L746.2,328.9 L750.8,325.8 L755.5,323.0 L760.2,320.4 L765.0,318.0 L769.9,315.8 L774.8,313.9 L779.7,312.2 L784.8,310.7 L789.8,309.4 L794.9,308.3 L800.0,307.5 L805.2,306.9 L810.3,306.6 L815.6,306.4 L820.8,306.5 L826.0,306.9 L831.3,307.4 L836.6,308.2 L841.8,309.2 L847.1,310.5 L852.4,312.0 L857.6,313.7 L862.9,315.6 L868.1,317.7 L873.4,320.1" fill="none" stroke="#fff" stroke-width="2"/>
<path d="M972.9,864.9 L968.0,862.2 L963.1,859.4 L958.2,856.3 L953.3,853.1 L948.6,849.6 L943.8,846.0 L939.1,842.2 L934.5,838.3 L929.9,834.1 L925.4,829.8 L920.9,825.3 L916.6,820.7 L912.2,815.9 L908.0,810.9 L903.8,805.8 L899.8,800.6 L895.8,795.2 L891.9,789.6 L888.1,783.9 L884.3,778.1 L880.7,772.1 L877.2,766.1 L873.7,759.9 L870.4,753.5 L867.2,747.1 L864.1,740.6 L861.0,733.9 L858.1,727.2 L855.4,720.3 L852.7,713.4 L850.1,706.4 L847.7,699.3 L845.4,692.2 L843.2,684.9 L841.1,677.6 L839.2,670.3 L837.3,662.9 L835.6,655.4 L834.1,647.9 L832.7,640.3 L831.4,632.8 L830.2,625.2 L829.1,617.5 L828.2,609.9 L827.5,602.3 L826.8,594.6 L826.3,586.9 L826.0,579.3 L825.8,571.6 L825.7,564.0 L825.7,556.4 L825.9,548.8 L826.2,541.3 L826.7,533.8 L827.3,526.3 L828.0,518.9 L828.8,511.5 L829.8,504.2 L831.0,497.0 L832.2,489.8 L833.6,482.7 L835.1,475.7 L836.8,468.7 L838.6,461.9 L840.5,455.1 L842.5,448.5 L844.6,441.9 L846.9,435.5 L849.3,429.1 L851.8,422.9 L854.5,416.8 L857.2,410.9 L860.1,405.0 L863.1,399.3 L866.1,393.8 L869.3,388.3 L872.6,383.0 L876.0,377.9 L879.5,372.9 L883.1,368.1 L886.8,363.5 L890.6,359.0 L894.5,354.6 L898.5,350.5 L902.5,346.5 L906.6,342.7 L910.9,339.0 L915.1,335.6" fill="none" stroke="#000" stroke-width="3"/>
<polygon points="1050.0,872.0 1160.0,858.0 1226.0,846.0 1232.0,856.0 1060.0,893.0" fill="#333"/>
<polygon points="1052.0,673.0 1229.7,646.0 1225.0,700.0 1218.0,760.0 1200.0,830.0 1160.0,870.0 1060.0,885.0 1035.0,850.0" fill="url(#gRace)" stroke="#000" stroke-width="2.5"/>
<polygon points="1137,652 1151,650 1150,705 1136,706" fill="#cfcfcf"/>
<path d="M1139,652 L1139,705" stroke="#fff" stroke-width="2.5"/>
<polygon points="1208,648 1226,646 1220,725 1203,727" fill="#bdbdbd"/>
<path d="M1216,648 L1211,726" stroke="#fff" stroke-width="2.5"/>
<path d="M1055,674 L1064,673 C1062,720 1056,770 1040,835 L1030,835 C1045,770 1052,720 1055,674 Z" fill="#5a5a5a"/>
<path d="M1064,673 C1062,720 1056,770 1040,835" stroke="#000" stroke-width="2.5" fill="none"/>
<polygon points="1032.6,666.6 1207.0,639.5 1229.7,645.0 1229.0,649.0 1052.0,672.5 1033.6,670.5" fill="#e4e4e4" stroke="#000" stroke-width="2.5" stroke-linejoin="round"/>
<path d="M1176,728 L1215,726 C1240,736 1258,755 1257,775 C1256,795 1240,812 1220,816 L1176,822 Z" fill="url(#gRBody)" stroke="#000" stroke-width="3"/>
<path d="M1176,760 C1180,780 1185,800 1195,812 L1176,818 Z" fill="#9a9a9a"/>
<polygon points="1181.0,731.5 1209.0,727.2 1230.7,739.0 1228.6,758.6 1183.0,752.0" fill="#3a3a3a" stroke="#000" stroke-width="2.5"/>
<path d="M1184,748 L1228,741" stroke="#fff" stroke-width="2.5"/>
<path d="M1077,706 C1100,703 1130,701 1150,701 C1170,706 1178,720 1178,745 C1178,765 1172,778 1163,782 C1140,787 1110,789 1085,789 Z" fill="url(#gRBody)" stroke="#000" stroke-width="3"/>
<ellipse cx="1079" cy="748" rx="22.5" ry="40.5" transform="rotate(-6 1079 748)" fill="#fff" stroke="#000" stroke-width="3"/>
<ellipse cx="1076" cy="747" rx="17.5" ry="35" transform="rotate(-6 1076 747)" fill="url(#gCap2)"/>
<path d="M1150,830 L1200,818 C1215,818 1226,835 1226,852 L1226,870 L1150,880 Z" fill="url(#gRollD)" stroke="#000" stroke-width="2.5"/>
<path d="M1203,820 C1216,826 1224,840 1225,860" stroke="#b8b8b8" stroke-width="6" fill="none"/>
<polygon points="1158.0,818.0 1178.0,810.0 1183.0,828.0 1162.0,862.0 1150.0,860.0" fill="#3c3c3c"/>
<polygon points="1156.0,857.0 1164.0,852.0 1170.0,872.0 1160.0,876.0" fill="#e8e8e8" stroke="#000" stroke-width="1.5"/>
<path d="M1057,793 C1080,793 1100,792 1111,792 L1112,823 C1125,820 1140,817 1150,816 C1157,825 1158,845 1153,856 C1140,866 1120,869 1111,869 C1090,871 1070,873 1057,873 Z" fill="url(#gRBodyC)" stroke="#000" stroke-width="3"/>
<path d="M1112,796 L1108,823" stroke="#fff" stroke-width="3"/>
<ellipse cx="1058" cy="834" rx="24" ry="39.5" transform="rotate(-4 1058 834)" fill="#fff" stroke="#000" stroke-width="3"/>
<ellipse cx="1055" cy="833" rx="19" ry="34.5" transform="rotate(-4 1055 833)" fill="url(#gCap2)"/>
<path d="M1087,881 L1091,873 M1095,880 L1099,872" stroke="#fff" stroke-width="2.2" fill="none"/>
<polygon points="1086.8,908.0 1157.0,895.0 1176.0,889.0 1182.0,888.5 1252.3,876.0 1243.0,895.0 1233.3,913.3 1216.7,936.7 1200.0,956.7 1183.3,971.7 1166.7,983.3 1150.0,995.0 1133.3,1003.3 1116.7,1011.7 1100.0,1016.7 1083.3,1020.8 1066.7,1025.0 1050.0,1029.0 1000.0,1041.0 944.0,1054.0 942.2,1046.4 946.3,1044.8 950.4,1043.2 954.5,1041.4 958.5,1039.5 962.5,1037.5 966.5,1035.4 970.5,1033.2 974.4,1030.9 978.3,1028.4 982.1,1025.9 985.9,1023.2 989.7,1020.5 993.5,1017.6 997.2,1014.6 1000.8,1011.5 1004.4,1008.3 1008.0,1005.0 1011.5,1001.6 1015.0,998.1 1018.5,994.5 1021.9,990.8 1025.2,987.0 1028.5,983.1 1031.8,979.1 1035.4,975.0 1039.4,970.8 1043.4,966.5 1047.3,962.1 1051.2,957.7 1055.0,953.1 1058.8,948.4 1062.5,943.7 1066.1,938.9 1069.7,934.0 1073.2,929.0 1076.7,923.9 1080.1,918.7 1083.5,913.5 1086.8,908.2" fill="url(#gOuterCyl)" stroke="#000" stroke-width="3" stroke-linejoin="round"/>
<polyline points="1168.1,893.3 1165.5,897.4 1162.9,901.5 1160.3,905.5 1157.6,909.5 1154.9,913.4 1152.2,917.3 1149.4,921.1 1146.6,924.9 1143.7,928.6 1140.9,932.3 1138.0,935.9 1135.0,939.5 1132.0,943.0 1129.0,946.5 1126.0,949.9 1122.9,953.2 1119.8,956.5 1116.7,959.7 1113.9,962.9 1111.4,966.0 1108.9,969.1 1106.3,972.1 1103.7,975.0 1101.0,977.9 1098.4,980.7 1095.7,983.5 1093.0,986.2 1090.2,988.8 1087.5,991.4 1084.7,993.9 1081.8,996.3 1079.0,998.7 1076.1,1001.1 1073.2,1003.3 1070.3,1005.5 1067.4,1007.6 1064.4,1009.7 1061.4,1011.7 1058.4,1013.6" stroke="#555" stroke-width="9" fill="none"/>
<polyline points="1168.1,893.3 1165.5,897.4 1162.9,901.5 1160.3,905.5 1157.6,909.5 1154.9,913.4 1152.2,917.3 1149.4,921.1 1146.6,924.9 1143.7,928.6 1140.9,932.3 1138.0,935.9 1135.0,939.5 1132.0,943.0 1129.0,946.5 1126.0,949.9 1122.9,953.2 1119.8,956.5 1116.7,959.7 1113.9,962.9 1111.4,966.0 1108.9,969.1 1106.3,972.1 1103.7,975.0 1101.0,977.9 1098.4,980.7 1095.7,983.5 1093.0,986.2 1090.2,988.8 1087.5,991.4 1084.7,993.9 1081.8,996.3 1079.0,998.7 1076.1,1001.1 1073.2,1003.3 1070.3,1005.5 1067.4,1007.6 1064.4,1009.7 1061.4,1011.7 1058.4,1013.6" stroke="#999" stroke-width="3" fill="none"/>
<polyline points="1160.1,893.3 1157.4,897.6 1154.7,901.8 1152.0,905.9 1149.2,910.1 1146.4,914.1 1143.6,918.1 1140.7,922.1 1137.8,926.0 1134.8,929.8 1131.8,933.6 1128.8,937.3 1125.8,941.0 1122.7,944.6 1119.5,948.2 1116.4,951.7 1113.2,955.1 1110.0,958.5 1106.9,961.8 1104.3,965.0 1101.6,968.2 1099.0,971.3 1096.3,974.4 1093.5,977.4 1090.8,980.3 1088.0,983.2 1085.2,986.0 1082.4,988.7 1079.5,991.4 1076.6,994.0 1073.7,996.5 1070.7,998.9 1067.8,1001.3 1064.8,1003.7 1061.7,1005.9 1058.7,1008.1 1055.6,1010.2 1052.5,1012.3 1049.4,1014.2 1046.3,1016.1" stroke="#000" stroke-width="3" fill="none"/>
<polyline points="1178.1,892.8 1175.7,896.7 1173.2,900.6 1170.7,904.4 1168.2,908.2 1165.6,911.9 1163.0,915.6 1160.4,919.2 1157.8,922.8 1155.1,926.4 1152.4,929.9 1149.7,933.3 1146.9,936.8 1144.1,940.1 1141.3,943.4 1138.4,946.7 1135.5,949.9 1132.6,953.1 1129.7,956.2 1126.7,959.2 1124.1,962.2 1121.7,965.2 1119.3,968.1 1116.8,971.0 1114.4,973.8 1111.9,976.5 1109.4,979.2 1106.8,981.8 1104.3,984.4 1101.7,986.9 1099.1,989.4 1096.4,991.8 1093.8,994.2 1091.1,996.5 1088.4,998.7 1085.7,1000.9 1082.9,1003.0 1080.2,1005.1 1077.4,1007.1 1074.6,1009.1" stroke="#fff" stroke-width="2.5" fill="none"/>
<polyline points="942.2,1046.4 946.3,1044.8 950.4,1043.2 954.5,1041.4 958.5,1039.5 962.5,1037.5 966.5,1035.4 970.5,1033.2 974.4,1030.9 978.3,1028.4 982.1,1025.9 985.9,1023.2 989.7,1020.5 993.5,1017.6 997.2,1014.6 1000.8,1011.5 1004.4,1008.3 1008.0,1005.0 1011.5,1001.6 1015.0,998.1 1018.5,994.5 1021.9,990.8 1025.2,987.0 1028.5,983.1 1031.8,979.1 1035.4,975.0 1039.4,970.8 1043.4,966.5 1047.3,962.1 1051.2,957.7 1055.0,953.1 1058.8,948.4 1062.5,943.7 1066.1,938.9 1069.7,934.0 1073.2,929.0 1076.7,923.9 1080.1,918.7 1083.5,913.5 1086.8,908.2" stroke="#fff" stroke-width="5" fill="none"/>
<polyline points="959.3,1042.0 964.2,1039.7 969.0,1037.2 973.8,1034.6 978.6,1031.8 983.3,1028.8 987.9,1025.6 992.5,1022.3 997.1,1018.9 1001.6,1015.3 1006.0,1011.5 1010.4,1007.6 1014.7,1003.5 1018.9,999.3 1023.1,994.9 1027.2,990.4 1031.2,985.7 1035.2,980.9 1039.5,975.9 1044.4,970.8 1049.2,965.6 1053.9,960.2 1058.5,954.7 1063.1,949.0 1067.6,943.3 1072.0,937.4 1076.3,931.4 1080.5,925.2 1084.6,918.9 1088.7,912.6" stroke="#d8d8d8" stroke-width="1.5" fill="none"/>
<polygon points="1059.6,883.0 1158.6,877.0 1206.0,861.7 1234.5,848.6 1253.5,871.2 1252.3,876.0 1182.3,887.8 1176.4,886.6 1157.0,895.0 1088.0,908.5 1078.0,905.0" fill="url(#gCutFace2)" stroke="#000" stroke-width="2.5" stroke-linejoin="round"/>
<path d="M1078,902 L1160,887 L1180,885 L1250,873" stroke="#fff" stroke-width="2" fill="none"/>
<polygon points="767.2,187.9 786.6,182.6 805.0,176.4 840.0,174.5 904.0,170.8 940.0,168.0 971.0,165.8 1002.0,167.4 1034.0,176.0 1060.0,184.0 1078.6,190.4 1077.0,192.0 1002.0,200.0 990.0,201.0 983.0,197.5 902.0,200.0 901.7,205.7 901.1,208.5 896.4,205.9 891.8,203.5 887.1,201.2 882.3,199.0 877.6,197.0 872.9,195.1 868.2,193.3 863.4,191.7 858.7,190.2 853.9,188.8 849.2,187.6 844.4,186.5 839.6,185.5 834.9,184.7 830.1,184.0 825.4,183.4 820.7,183.0 815.9,182.7 811.2,182.6 806.5,182.6 801.8,182.7 797.1,182.9 792.5,183.3 787.8,183.8 783.2,184.5 778.6,185.3 774.0,186.2 769.5,187.3 764.9,188.5" fill="url(#gTopSurf)"/>
<path d="M767.2,187.9 Q786.6,182.9 805,176.4 L904,170.8 L940,168 C975,164 1010,164 1040,177 L1078.6,190.4" fill="none" stroke="#000" stroke-width="3"/>
<polyline points="787.8,183.8 792.5,183.3 797.1,182.9 801.8,182.7 806.5,182.6 811.2,182.6 815.9,182.7 820.7,183.0 825.4,183.4 830.1,184.0 834.9,184.7 839.6,185.5 844.4,186.5 849.2,187.6 853.9,188.8 858.7,190.2 863.4,191.7 868.2,193.3 872.9,195.1 877.6,197.0 882.3,199.0 887.1,201.2 891.8,203.5 896.4,205.9 901.1,208.5" fill="none" stroke="#fff" stroke-width="2.5"/>
<path d="M790,192 C830,191 870,197 900,211" fill="none" stroke="#f4f4f4" stroke-width="1.5"/>
<path d="M912,173 L942,181" stroke="#222" stroke-width="3" fill="none"/>
<path d="M940,178.5 C965,183 990,190 1005,199" stroke="#3a3a3a" stroke-width="3.5" fill="none"/>
<path d="M982,199 L988,204" stroke="#111" stroke-width="3" fill="none"/>
<polygon points="902.0,200.5 983.0,197.8 990.0,201.2 1002.0,200.2 1077.0,192.0 1075.0,227.5 1047.0,222.0 1025.0,218.7 980.0,220.8 940.0,229.0 908.0,237.5 899.0,241.0" fill="url(#gCutFace)"/>
<polyline points="1077.0,192.0 1075.0,227.5 1047.0,222.0 1025.0,218.7 980.0,220.8 940.0,229.0 908.0,237.5 899.0,241.0" fill="none" stroke="#000" stroke-width="2.5" stroke-linejoin="round"/>
<path d="M902,201 L899,241" stroke="#fff" stroke-width="2.5"/>
<path d="M903,202 L983,199 L990,202.5 L1002,201.5 L1076,193.5" stroke="#fff" stroke-width="2" fill="none"/>
<polygon points="905.0,314.0 990.0,286.0 1040.0,278.0 1050.0,279.0 1034.0,292.0 990.0,303.0 939.0,314.0" fill="#4a4a4a"/>
<polygon points="975.0,221.0 1046.0,219.0 1050.0,232.0 990.0,234.0" fill="#8a8a8a"/>
<path d="M1030,222 L1049,222.5 C1057,235 1058,262 1047,276 C1042,283 1038,286 1034,287 L1000,290 L995,240 Z" fill="url(#gRBodyD)" stroke="#000" stroke-width="2.5"/>
<path d="M1045,226 C1053,240 1054,262 1045,276 C1041,281 1038,284 1035,286" fill="none" stroke="#d8d8d8" stroke-width="6"/>
<polygon points="990.3,228.5 1025.0,224.7 1040.2,231.7 1030.4,265.8 1001.2,269.0" fill="url(#gCage)" stroke="#000" stroke-width="2.5"/>
<polygon points="992.0,230.0 1025.0,226.5 1038.0,232.5 1036.0,236.0 996.0,238.0" fill="#d9d9d9"/>
<path d="M907.5,238 C930,231 955,225 977,222 C990,224 1000,245 1000,262 C1000,280 993,290 986.7,292.5 C970,298 950,305 923,313 Z" fill="url(#gRBody)" stroke="#000" stroke-width="3"/>
<ellipse cx="903" cy="276.5" rx="25.5" ry="37.5" transform="rotate(-8 903 276.5)" fill="#fff" stroke="#000" stroke-width="3"/>
<ellipse cx="899" cy="276" rx="20" ry="33" transform="rotate(-8 899 276)" fill="url(#gCap2)"/>
<polygon points="882.7,305.0 897.0,303.0 897.0,313.0 920.0,313.0 939.0,310.0 990.0,299.0 1034.0,286.0 1047.0,280.0 1063.0,286.0 1058.0,311.5 912.0,334.0 883.0,338.0" fill="url(#gCutFace2)" stroke="#000" stroke-width="2.5" stroke-linejoin="round"/>
<polygon points="1040.0,285.0 1047.0,282.0 1058.0,287.0 1055.0,300.0 1020.0,297.0" fill="#9a9a9a"/>
<path d="M884,307 L884,336 L912,332" stroke="#fff" stroke-width="2" fill="none"/>
<line x1="600" y1="341.5" x2="815" y2="320" stroke="#fff" stroke-width="7"/>
<line x1="700" y1="960.5" x2="880" y2="921" stroke="#fff" stroke-width="7"/>
<line x1="391" y1="359" x2="815" y2="320" stroke="#000" stroke-width="2.8" fill="none"/>
<line x1="541" y1="995.5" x2="880" y2="921" stroke="#000" stroke-width="2.8" fill="none"/>
<line x1="924" y1="84" x2="902" y2="211" stroke="#000" stroke-width="2.8" fill="none"/>
<line x1="1106" y1="70" x2="1076" y2="226" stroke="#000" stroke-width="2.8" fill="none"/>
</svg></body></html>
